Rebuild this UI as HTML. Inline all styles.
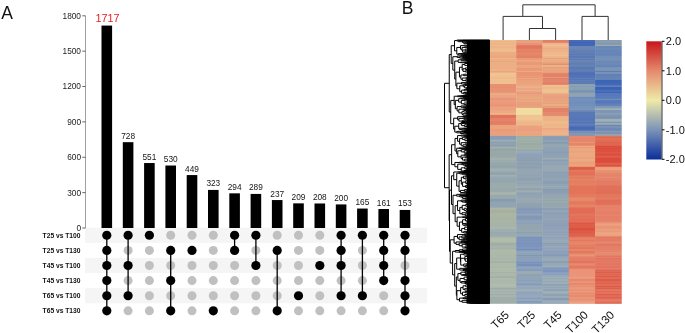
<!DOCTYPE html>
<html><head><meta charset="utf-8"><style>
html,body{margin:0;padding:0;background:#fff;width:685px;height:333px;overflow:hidden}
svg{display:block;will-change:transform;font-family:"Liberation Sans",sans-serif}
</style></head><body>
<svg width="685" height="333" viewBox="0 0 685 333">
<rect x="85" y="227.70" width="342" height="15.12" fill="#f5f5f5"/>
<rect x="85" y="257.94" width="342" height="15.12" fill="#f5f5f5"/>
<rect x="85" y="288.18" width="342" height="15.12" fill="#f5f5f5"/>
<line x1="85.5" y1="15.8" x2="85.5" y2="228" stroke="#a0a0a0" stroke-width="1"/>
<line x1="82.3" y1="228.00" x2="85.5" y2="228.00" stroke="#555" stroke-width="0.9"/>
<text x="81" y="230.90" font-size="8.3" text-anchor="end" fill="#222">0</text>
<line x1="82.3" y1="192.63" x2="85.5" y2="192.63" stroke="#555" stroke-width="0.9"/>
<text x="81" y="195.53" font-size="8.3" text-anchor="end" fill="#222">300</text>
<line x1="82.3" y1="157.27" x2="85.5" y2="157.27" stroke="#555" stroke-width="0.9"/>
<text x="81" y="160.17" font-size="8.3" text-anchor="end" fill="#222">600</text>
<line x1="82.3" y1="121.90" x2="85.5" y2="121.90" stroke="#555" stroke-width="0.9"/>
<text x="81" y="124.80" font-size="8.3" text-anchor="end" fill="#222">900</text>
<line x1="82.3" y1="86.53" x2="85.5" y2="86.53" stroke="#555" stroke-width="0.9"/>
<text x="81" y="89.43" font-size="8.3" text-anchor="end" fill="#222">1200</text>
<line x1="82.3" y1="51.17" x2="85.5" y2="51.17" stroke="#555" stroke-width="0.9"/>
<text x="81" y="54.07" font-size="8.3" text-anchor="end" fill="#222">1500</text>
<line x1="82.3" y1="15.80" x2="85.5" y2="15.80" stroke="#555" stroke-width="0.9"/>
<text x="81" y="18.70" font-size="8.3" text-anchor="end" fill="#222">1800</text>
<rect x="101.50" y="25.58" width="10.6" height="202.42" fill="#000"/>
<text x="107.50" y="22.18" font-size="10.8" text-anchor="middle" fill="#e8202a">1717</text>
<rect x="122.80" y="142.18" width="10.6" height="85.82" fill="#000"/>
<text x="128.10" y="138.68" font-size="8.3" text-anchor="middle" fill="#151515">728</text>
<rect x="144.10" y="163.04" width="10.6" height="64.96" fill="#000"/>
<text x="149.40" y="159.54" font-size="8.3" text-anchor="middle" fill="#151515">551</text>
<rect x="165.40" y="165.52" width="10.6" height="62.48" fill="#000"/>
<text x="170.70" y="162.02" font-size="8.3" text-anchor="middle" fill="#151515">530</text>
<rect x="186.70" y="175.07" width="10.6" height="52.93" fill="#000"/>
<text x="192.00" y="171.57" font-size="8.3" text-anchor="middle" fill="#151515">449</text>
<rect x="208.00" y="189.92" width="10.6" height="38.08" fill="#000"/>
<text x="213.30" y="186.42" font-size="8.3" text-anchor="middle" fill="#151515">323</text>
<rect x="229.30" y="193.34" width="10.6" height="34.66" fill="#000"/>
<text x="234.60" y="189.84" font-size="8.3" text-anchor="middle" fill="#151515">294</text>
<rect x="250.60" y="193.93" width="10.6" height="34.07" fill="#000"/>
<text x="255.90" y="190.43" font-size="8.3" text-anchor="middle" fill="#151515">289</text>
<rect x="271.90" y="200.06" width="10.6" height="27.94" fill="#000"/>
<text x="277.20" y="196.56" font-size="8.3" text-anchor="middle" fill="#151515">237</text>
<rect x="293.20" y="203.36" width="10.6" height="24.64" fill="#000"/>
<text x="298.50" y="199.86" font-size="8.3" text-anchor="middle" fill="#151515">209</text>
<rect x="314.50" y="203.48" width="10.6" height="24.52" fill="#000"/>
<text x="319.80" y="199.98" font-size="8.3" text-anchor="middle" fill="#151515">208</text>
<rect x="335.80" y="204.42" width="10.6" height="23.58" fill="#000"/>
<text x="341.10" y="200.92" font-size="8.3" text-anchor="middle" fill="#151515">200</text>
<rect x="357.10" y="208.55" width="10.6" height="19.45" fill="#000"/>
<text x="362.40" y="205.05" font-size="8.3" text-anchor="middle" fill="#151515">165</text>
<rect x="378.40" y="209.02" width="10.6" height="18.98" fill="#000"/>
<text x="383.70" y="205.52" font-size="8.3" text-anchor="middle" fill="#151515">161</text>
<rect x="399.70" y="209.96" width="10.6" height="18.04" fill="#000"/>
<text x="405.00" y="206.46" font-size="8.3" text-anchor="middle" fill="#151515">153</text>
<circle cx="128.10" cy="250.38" r="4.5" fill="#c0c0c0"/>
<circle cx="128.10" cy="280.62" r="4.5" fill="#c0c0c0"/>
<circle cx="128.10" cy="310.86" r="4.5" fill="#c0c0c0"/>
<circle cx="149.40" cy="250.38" r="4.5" fill="#c0c0c0"/>
<circle cx="149.40" cy="265.50" r="4.5" fill="#c0c0c0"/>
<circle cx="149.40" cy="280.62" r="4.5" fill="#c0c0c0"/>
<circle cx="149.40" cy="295.74" r="4.5" fill="#c0c0c0"/>
<circle cx="149.40" cy="310.86" r="4.5" fill="#c0c0c0"/>
<circle cx="170.70" cy="235.26" r="4.5" fill="#c0c0c0"/>
<circle cx="170.70" cy="265.50" r="4.5" fill="#c0c0c0"/>
<circle cx="170.70" cy="295.74" r="4.5" fill="#c0c0c0"/>
<circle cx="192.00" cy="235.26" r="4.5" fill="#c0c0c0"/>
<circle cx="192.00" cy="265.50" r="4.5" fill="#c0c0c0"/>
<circle cx="192.00" cy="280.62" r="4.5" fill="#c0c0c0"/>
<circle cx="192.00" cy="295.74" r="4.5" fill="#c0c0c0"/>
<circle cx="192.00" cy="310.86" r="4.5" fill="#c0c0c0"/>
<circle cx="213.30" cy="235.26" r="4.5" fill="#c0c0c0"/>
<circle cx="213.30" cy="250.38" r="4.5" fill="#c0c0c0"/>
<circle cx="213.30" cy="265.50" r="4.5" fill="#c0c0c0"/>
<circle cx="213.30" cy="280.62" r="4.5" fill="#c0c0c0"/>
<circle cx="213.30" cy="295.74" r="4.5" fill="#c0c0c0"/>
<circle cx="234.60" cy="265.50" r="4.5" fill="#c0c0c0"/>
<circle cx="234.60" cy="280.62" r="4.5" fill="#c0c0c0"/>
<circle cx="234.60" cy="295.74" r="4.5" fill="#c0c0c0"/>
<circle cx="234.60" cy="310.86" r="4.5" fill="#c0c0c0"/>
<circle cx="255.90" cy="250.38" r="4.5" fill="#c0c0c0"/>
<circle cx="255.90" cy="280.62" r="4.5" fill="#c0c0c0"/>
<circle cx="255.90" cy="295.74" r="4.5" fill="#c0c0c0"/>
<circle cx="255.90" cy="310.86" r="4.5" fill="#c0c0c0"/>
<circle cx="277.20" cy="235.26" r="4.5" fill="#c0c0c0"/>
<circle cx="277.20" cy="265.50" r="4.5" fill="#c0c0c0"/>
<circle cx="277.20" cy="280.62" r="4.5" fill="#c0c0c0"/>
<circle cx="277.20" cy="295.74" r="4.5" fill="#c0c0c0"/>
<circle cx="298.50" cy="235.26" r="4.5" fill="#c0c0c0"/>
<circle cx="298.50" cy="250.38" r="4.5" fill="#c0c0c0"/>
<circle cx="298.50" cy="265.50" r="4.5" fill="#c0c0c0"/>
<circle cx="298.50" cy="280.62" r="4.5" fill="#c0c0c0"/>
<circle cx="298.50" cy="310.86" r="4.5" fill="#c0c0c0"/>
<circle cx="319.80" cy="235.26" r="4.5" fill="#c0c0c0"/>
<circle cx="319.80" cy="250.38" r="4.5" fill="#c0c0c0"/>
<circle cx="319.80" cy="280.62" r="4.5" fill="#c0c0c0"/>
<circle cx="319.80" cy="295.74" r="4.5" fill="#c0c0c0"/>
<circle cx="319.80" cy="310.86" r="4.5" fill="#c0c0c0"/>
<circle cx="341.10" cy="280.62" r="4.5" fill="#c0c0c0"/>
<circle cx="341.10" cy="310.86" r="4.5" fill="#c0c0c0"/>
<circle cx="362.40" cy="250.38" r="4.5" fill="#c0c0c0"/>
<circle cx="362.40" cy="265.50" r="4.5" fill="#c0c0c0"/>
<circle cx="362.40" cy="280.62" r="4.5" fill="#c0c0c0"/>
<circle cx="362.40" cy="310.86" r="4.5" fill="#c0c0c0"/>
<circle cx="383.70" cy="295.74" r="4.5" fill="#c0c0c0"/>
<circle cx="383.70" cy="310.86" r="4.5" fill="#c0c0c0"/>
<circle cx="405.00" cy="265.50" r="4.5" fill="#c0c0c0"/>
<line x1="106.80" y1="235.26" x2="106.80" y2="310.86" stroke="#000" stroke-width="1.3"/>
<circle cx="106.80" cy="235.26" r="4.6" fill="#000"/>
<circle cx="106.80" cy="250.38" r="4.6" fill="#000"/>
<circle cx="106.80" cy="265.50" r="4.6" fill="#000"/>
<circle cx="106.80" cy="280.62" r="4.6" fill="#000"/>
<circle cx="106.80" cy="295.74" r="4.6" fill="#000"/>
<circle cx="106.80" cy="310.86" r="4.6" fill="#000"/>
<line x1="128.10" y1="235.26" x2="128.10" y2="295.74" stroke="#000" stroke-width="1.3"/>
<circle cx="128.10" cy="235.26" r="4.6" fill="#000"/>
<circle cx="128.10" cy="265.50" r="4.6" fill="#000"/>
<circle cx="128.10" cy="295.74" r="4.6" fill="#000"/>
<circle cx="149.40" cy="235.26" r="4.6" fill="#000"/>
<line x1="170.70" y1="250.38" x2="170.70" y2="310.86" stroke="#000" stroke-width="1.3"/>
<circle cx="170.70" cy="250.38" r="4.6" fill="#000"/>
<circle cx="170.70" cy="280.62" r="4.6" fill="#000"/>
<circle cx="170.70" cy="310.86" r="4.6" fill="#000"/>
<circle cx="192.00" cy="250.38" r="4.6" fill="#000"/>
<circle cx="213.30" cy="310.86" r="4.6" fill="#000"/>
<line x1="234.60" y1="235.26" x2="234.60" y2="250.38" stroke="#000" stroke-width="1.3"/>
<circle cx="234.60" cy="235.26" r="4.6" fill="#000"/>
<circle cx="234.60" cy="250.38" r="4.6" fill="#000"/>
<line x1="255.90" y1="235.26" x2="255.90" y2="265.50" stroke="#000" stroke-width="1.3"/>
<circle cx="255.90" cy="235.26" r="4.6" fill="#000"/>
<circle cx="255.90" cy="265.50" r="4.6" fill="#000"/>
<line x1="277.20" y1="250.38" x2="277.20" y2="310.86" stroke="#000" stroke-width="1.3"/>
<circle cx="277.20" cy="250.38" r="4.6" fill="#000"/>
<circle cx="277.20" cy="310.86" r="4.6" fill="#000"/>
<circle cx="298.50" cy="295.74" r="4.6" fill="#000"/>
<circle cx="319.80" cy="265.50" r="4.6" fill="#000"/>
<line x1="341.10" y1="235.26" x2="341.10" y2="295.74" stroke="#000" stroke-width="1.3"/>
<circle cx="341.10" cy="235.26" r="4.6" fill="#000"/>
<circle cx="341.10" cy="250.38" r="4.6" fill="#000"/>
<circle cx="341.10" cy="265.50" r="4.6" fill="#000"/>
<circle cx="341.10" cy="295.74" r="4.6" fill="#000"/>
<line x1="362.40" y1="235.26" x2="362.40" y2="295.74" stroke="#000" stroke-width="1.3"/>
<circle cx="362.40" cy="235.26" r="4.6" fill="#000"/>
<circle cx="362.40" cy="295.74" r="4.6" fill="#000"/>
<line x1="383.70" y1="235.26" x2="383.70" y2="280.62" stroke="#000" stroke-width="1.3"/>
<circle cx="383.70" cy="235.26" r="4.6" fill="#000"/>
<circle cx="383.70" cy="250.38" r="4.6" fill="#000"/>
<circle cx="383.70" cy="265.50" r="4.6" fill="#000"/>
<circle cx="383.70" cy="280.62" r="4.6" fill="#000"/>
<line x1="405.00" y1="235.26" x2="405.00" y2="310.86" stroke="#000" stroke-width="1.3"/>
<circle cx="405.00" cy="235.26" r="4.6" fill="#000"/>
<circle cx="405.00" cy="250.38" r="4.6" fill="#000"/>
<circle cx="405.00" cy="280.62" r="4.6" fill="#000"/>
<circle cx="405.00" cy="295.74" r="4.6" fill="#000"/>
<circle cx="405.00" cy="310.86" r="4.6" fill="#000"/>
<text x="80.5" y="237.76" font-size="6.7" font-weight="bold" text-anchor="end" fill="#111">T25 vs T100</text>
<text x="80.5" y="252.88" font-size="6.7" font-weight="bold" text-anchor="end" fill="#111">T25 vs T130</text>
<text x="80.5" y="268.00" font-size="6.7" font-weight="bold" text-anchor="end" fill="#111">T45 vs T100</text>
<text x="80.5" y="283.12" font-size="6.7" font-weight="bold" text-anchor="end" fill="#111">T45 vs T130</text>
<text x="80.5" y="298.24" font-size="6.7" font-weight="bold" text-anchor="end" fill="#111">T65 vs T100</text>
<text x="80.5" y="313.36" font-size="6.7" font-weight="bold" text-anchor="end" fill="#111">T65 vs T130</text>
<text x="1.3" y="19" font-size="17.5" fill="#111">A</text>
<text x="401.8" y="14" font-size="17.5" fill="#111">B</text>
<rect x="489.90" y="40.00" width="26.60" height="1.298" fill="#efbe8d"/>
<rect x="489.90" y="41.00" width="26.60" height="1.298" fill="#eeb688"/>
<rect x="489.90" y="42.00" width="26.60" height="1.298" fill="#efb98b"/>
<rect x="489.90" y="42.99" width="26.60" height="2.296" fill="#eeb588"/>
<rect x="489.90" y="44.99" width="26.60" height="1.298" fill="#efbc8c"/>
<rect x="489.90" y="45.99" width="26.60" height="1.298" fill="#eeb588"/>
<rect x="489.90" y="46.99" width="26.60" height="1.298" fill="#eeb387"/>
<rect x="489.90" y="47.98" width="26.60" height="2.296" fill="#efba8b"/>
<rect x="489.90" y="49.98" width="26.60" height="1.298" fill="#efbf8e"/>
<rect x="489.90" y="50.98" width="26.60" height="1.298" fill="#efbb8c"/>
<rect x="489.90" y="51.98" width="26.60" height="2.296" fill="#ecac82"/>
<rect x="489.90" y="53.97" width="26.60" height="2.296" fill="#ecab81"/>
<rect x="489.90" y="55.97" width="26.60" height="2.296" fill="#eba87f"/>
<rect x="489.90" y="57.97" width="26.60" height="1.298" fill="#edb78a"/>
<rect x="489.90" y="58.96" width="26.60" height="2.296" fill="#edae84"/>
<rect x="489.90" y="60.96" width="26.60" height="1.298" fill="#eca67f"/>
<rect x="489.90" y="61.96" width="26.60" height="2.296" fill="#edaf85"/>
<rect x="489.90" y="63.95" width="26.60" height="5.291" fill="#edae85"/>
<rect x="489.90" y="68.95" width="26.60" height="2.296" fill="#edb387"/>
<rect x="489.90" y="70.94" width="26.60" height="1.298" fill="#eca47e"/>
<rect x="489.90" y="71.94" width="26.60" height="1.298" fill="#edb186"/>
<rect x="489.90" y="72.94" width="26.60" height="2.296" fill="#f0c392"/>
<rect x="489.90" y="74.93" width="26.60" height="2.296" fill="#f0c191"/>
<rect x="489.90" y="76.93" width="26.60" height="2.296" fill="#efba8c"/>
<rect x="489.90" y="78.93" width="26.60" height="2.296" fill="#f0c291"/>
<rect x="489.90" y="80.92" width="26.60" height="1.298" fill="#efbc8d"/>
<rect x="489.90" y="81.92" width="26.60" height="1.298" fill="#f0c392"/>
<rect x="489.90" y="82.92" width="26.60" height="1.298" fill="#f0c090"/>
<rect x="489.90" y="83.92" width="26.60" height="1.298" fill="#e89574"/>
<rect x="489.90" y="84.91" width="26.60" height="1.298" fill="#e79272"/>
<rect x="489.90" y="85.91" width="26.60" height="2.296" fill="#e78f70"/>
<rect x="489.90" y="87.91" width="26.60" height="1.298" fill="#e89474"/>
<rect x="489.90" y="88.91" width="26.60" height="1.298" fill="#e89273"/>
<rect x="489.90" y="89.91" width="26.60" height="2.296" fill="#e89373"/>
<rect x="489.90" y="91.90" width="26.60" height="1.298" fill="#e89977"/>
<rect x="489.90" y="92.90" width="26.60" height="1.298" fill="#eca984"/>
<rect x="489.90" y="93.90" width="26.60" height="1.298" fill="#ecae87"/>
<rect x="489.90" y="94.90" width="26.60" height="3.294" fill="#eca582"/>
<rect x="489.90" y="97.89" width="26.60" height="2.296" fill="#e99678"/>
<rect x="489.90" y="99.89" width="26.60" height="1.298" fill="#eb9c7c"/>
<rect x="489.90" y="100.88" width="26.60" height="1.298" fill="#eb9f7e"/>
<rect x="489.90" y="101.88" width="26.60" height="2.296" fill="#ea9a7a"/>
<rect x="489.90" y="103.88" width="26.60" height="3.294" fill="#e99678"/>
<rect x="489.90" y="106.87" width="26.60" height="1.298" fill="#eca682"/>
<rect x="489.90" y="107.87" width="26.60" height="1.298" fill="#eca17f"/>
<rect x="489.90" y="108.87" width="26.60" height="1.298" fill="#eba07e"/>
<rect x="489.90" y="109.87" width="26.60" height="1.298" fill="#edaa82"/>
<rect x="489.90" y="110.87" width="26.60" height="2.296" fill="#eda982"/>
<rect x="489.90" y="112.86" width="26.60" height="2.296" fill="#eeb589"/>
<rect x="489.90" y="114.86" width="26.60" height="3.294" fill="#e1735d"/>
<rect x="489.90" y="117.85" width="26.60" height="2.296" fill="#e48166"/>
<rect x="489.90" y="119.85" width="26.60" height="1.298" fill="#e4896b"/>
<rect x="489.90" y="120.85" width="26.60" height="1.298" fill="#e37c63"/>
<rect x="489.90" y="121.84" width="26.60" height="3.294" fill="#e37d64"/>
<rect x="489.90" y="124.84" width="26.60" height="2.296" fill="#eba27d"/>
<rect x="489.90" y="126.84" width="26.60" height="2.296" fill="#eba57f"/>
<rect x="489.90" y="128.83" width="26.60" height="3.294" fill="#ea9c79"/>
<rect x="489.90" y="131.83" width="26.60" height="1.298" fill="#eba07c"/>
<rect x="489.90" y="132.82" width="26.60" height="2.296" fill="#eb9f7c"/>
<rect x="489.90" y="134.82" width="26.60" height="1.298" fill="#eba57f"/>
<rect x="489.90" y="135.82" width="26.60" height="3.294" fill="#889db3"/>
<rect x="489.90" y="138.81" width="26.60" height="1.298" fill="#8ca0b4"/>
<rect x="489.90" y="139.81" width="26.60" height="2.296" fill="#9cacb2"/>
<rect x="489.90" y="141.81" width="26.60" height="1.298" fill="#879cb3"/>
<rect x="489.90" y="142.80" width="26.60" height="1.298" fill="#90a4b4"/>
<rect x="489.90" y="143.80" width="26.60" height="1.298" fill="#93a6b3"/>
<rect x="489.90" y="144.80" width="26.60" height="1.298" fill="#899db3"/>
<rect x="489.90" y="145.80" width="26.60" height="1.298" fill="#8fa3b4"/>
<rect x="489.90" y="146.80" width="26.60" height="1.298" fill="#a4b1a8"/>
<rect x="489.90" y="147.80" width="26.60" height="1.298" fill="#9eaca8"/>
<rect x="489.90" y="148.79" width="26.60" height="2.296" fill="#94a3a7"/>
<rect x="489.90" y="150.79" width="26.60" height="2.296" fill="#9aa8a8"/>
<rect x="489.90" y="152.79" width="26.60" height="3.294" fill="#98a7a7"/>
<rect x="489.90" y="155.78" width="26.60" height="1.298" fill="#9daba8"/>
<rect x="489.90" y="156.78" width="26.60" height="1.298" fill="#96a8ac"/>
<rect x="489.90" y="157.78" width="26.60" height="2.296" fill="#a4b2ab"/>
<rect x="489.90" y="159.77" width="26.60" height="3.294" fill="#9cacac"/>
<rect x="489.90" y="162.77" width="26.60" height="3.294" fill="#95a6ac"/>
<rect x="489.90" y="165.76" width="26.60" height="1.298" fill="#92a4ab"/>
<rect x="489.90" y="166.76" width="26.60" height="1.298" fill="#93a5ac"/>
<rect x="489.90" y="167.76" width="26.60" height="1.298" fill="#9cacac"/>
<rect x="489.90" y="168.76" width="26.60" height="1.298" fill="#9eadac"/>
<rect x="489.90" y="169.75" width="26.60" height="1.298" fill="#a5b3ae"/>
<rect x="489.90" y="170.75" width="26.60" height="1.298" fill="#9aaaaf"/>
<rect x="489.90" y="171.75" width="26.60" height="1.298" fill="#99a9af"/>
<rect x="489.90" y="172.75" width="26.60" height="1.298" fill="#8ea1af"/>
<rect x="489.90" y="173.75" width="26.60" height="1.298" fill="#91a3b0"/>
<rect x="489.90" y="174.74" width="26.60" height="2.296" fill="#a1afaf"/>
<rect x="489.90" y="176.74" width="26.60" height="2.296" fill="#95a7b0"/>
<rect x="489.90" y="178.74" width="26.60" height="1.298" fill="#96a7b0"/>
<rect x="489.90" y="179.73" width="26.60" height="1.298" fill="#97a8b0"/>
<rect x="489.90" y="180.73" width="26.60" height="1.298" fill="#92a4b0"/>
<rect x="489.90" y="181.73" width="26.60" height="1.298" fill="#97a8ac"/>
<rect x="489.90" y="182.73" width="26.60" height="3.294" fill="#9aabac"/>
<rect x="489.90" y="185.72" width="26.60" height="1.298" fill="#9faeac"/>
<rect x="489.90" y="186.72" width="26.60" height="1.298" fill="#98a9ac"/>
<rect x="489.90" y="187.72" width="26.60" height="1.298" fill="#9babac"/>
<rect x="489.90" y="188.72" width="26.60" height="1.298" fill="#9aaaac"/>
<rect x="489.90" y="189.72" width="26.60" height="2.296" fill="#97a8ac"/>
<rect x="489.90" y="191.71" width="26.60" height="1.298" fill="#a4b2ab"/>
<rect x="489.90" y="192.71" width="26.60" height="2.296" fill="#a8b5ab"/>
<rect x="489.90" y="194.71" width="26.60" height="1.298" fill="#9aabac"/>
<rect x="489.90" y="195.70" width="26.60" height="1.298" fill="#95a8b2"/>
<rect x="489.90" y="196.70" width="26.60" height="1.298" fill="#98aab1"/>
<rect x="489.90" y="197.70" width="26.60" height="1.298" fill="#9aabb1"/>
<rect x="489.90" y="198.70" width="26.60" height="3.294" fill="#889cb0"/>
<rect x="489.90" y="201.69" width="26.60" height="3.294" fill="#91a4b2"/>
<rect x="489.90" y="204.69" width="26.60" height="1.298" fill="#92a5b2"/>
<rect x="489.90" y="205.69" width="26.60" height="1.298" fill="#90a3b1"/>
<rect x="489.90" y="206.68" width="26.60" height="1.298" fill="#91a4b2"/>
<rect x="489.90" y="207.68" width="26.60" height="2.296" fill="#abb6a4"/>
<rect x="489.90" y="209.68" width="26.60" height="3.294" fill="#aaae9e"/>
<rect x="489.90" y="212.67" width="26.60" height="2.296" fill="#a8b4a4"/>
<rect x="489.90" y="214.67" width="26.60" height="3.294" fill="#aab6a4"/>
<rect x="489.90" y="217.66" width="26.60" height="1.298" fill="#aaad9e"/>
<rect x="489.90" y="218.66" width="26.60" height="3.294" fill="#a8b4a4"/>
<rect x="489.90" y="221.66" width="26.60" height="3.294" fill="#a6b3a8"/>
<rect x="489.90" y="224.65" width="26.60" height="1.298" fill="#a2b0a8"/>
<rect x="489.90" y="225.65" width="26.60" height="2.296" fill="#a6b3a8"/>
<rect x="489.90" y="227.64" width="26.60" height="1.298" fill="#aab6a8"/>
<rect x="489.90" y="228.64" width="26.60" height="1.298" fill="#9faea8"/>
<rect x="489.90" y="229.64" width="26.60" height="1.298" fill="#98a9ad"/>
<rect x="489.90" y="230.64" width="26.60" height="1.298" fill="#9eadad"/>
<rect x="489.90" y="231.64" width="26.60" height="1.298" fill="#99aaad"/>
<rect x="489.90" y="232.63" width="26.60" height="1.298" fill="#8fa2ac"/>
<rect x="489.90" y="233.63" width="26.60" height="1.298" fill="#98a9ad"/>
<rect x="489.90" y="234.63" width="26.60" height="1.298" fill="#97a8ad"/>
<rect x="489.90" y="235.63" width="26.60" height="1.298" fill="#92a5ad"/>
<rect x="489.90" y="236.63" width="26.60" height="2.296" fill="#abb7a6"/>
<rect x="489.90" y="238.62" width="26.60" height="3.294" fill="#b2bca6"/>
<rect x="489.90" y="241.62" width="26.60" height="1.298" fill="#a6b3a6"/>
<rect x="489.90" y="242.62" width="26.60" height="3.294" fill="#a0aea6"/>
<rect x="489.90" y="245.61" width="26.60" height="1.298" fill="#9fada6"/>
<rect x="489.90" y="246.61" width="26.60" height="1.298" fill="#a8b4a6"/>
<rect x="489.90" y="247.61" width="26.60" height="1.298" fill="#9eaca5"/>
<rect x="489.90" y="248.60" width="26.60" height="1.298" fill="#a0aea6"/>
<rect x="489.90" y="249.60" width="26.60" height="1.298" fill="#a9b5a6"/>
<rect x="489.90" y="250.60" width="26.60" height="3.294" fill="#aeb9a6"/>
<rect x="489.90" y="253.59" width="26.60" height="1.298" fill="#a4b1a6"/>
<rect x="489.90" y="254.59" width="26.60" height="1.298" fill="#a6b3a6"/>
<rect x="489.90" y="255.59" width="26.60" height="1.298" fill="#a4b1a6"/>
<rect x="489.90" y="256.59" width="26.60" height="1.298" fill="#a7b4a6"/>
<rect x="489.90" y="257.59" width="26.60" height="2.296" fill="#a6b3a6"/>
<rect x="489.90" y="259.58" width="26.60" height="1.298" fill="#a7b4a6"/>
<rect x="489.90" y="260.58" width="26.60" height="3.294" fill="#a4b1a6"/>
<rect x="489.90" y="263.58" width="26.60" height="2.296" fill="#aeb9a6"/>
<rect x="489.90" y="265.57" width="26.60" height="1.298" fill="#a5b2a6"/>
<rect x="489.90" y="266.57" width="26.60" height="1.298" fill="#a4b1a6"/>
<rect x="489.90" y="267.57" width="26.60" height="1.298" fill="#a5b2a6"/>
<rect x="489.90" y="268.57" width="26.60" height="3.294" fill="#aeb9a6"/>
<rect x="489.90" y="271.56" width="26.60" height="2.296" fill="#a5b2a6"/>
<rect x="489.90" y="273.56" width="26.60" height="2.296" fill="#abb7a6"/>
<rect x="489.90" y="275.55" width="26.60" height="3.294" fill="#a4b1a6"/>
<rect x="489.90" y="278.55" width="26.60" height="1.298" fill="#a8b4a6"/>
<rect x="489.90" y="279.55" width="26.60" height="1.298" fill="#a3b1a6"/>
<rect x="489.90" y="280.54" width="26.60" height="1.298" fill="#a5b2a6"/>
<rect x="489.90" y="281.54" width="26.60" height="2.296" fill="#aab6a6"/>
<rect x="489.90" y="283.54" width="26.60" height="1.298" fill="#a6b3a6"/>
<rect x="489.90" y="284.54" width="26.60" height="1.298" fill="#acb7a6"/>
<rect x="489.90" y="285.53" width="26.60" height="1.298" fill="#aab6a6"/>
<rect x="489.90" y="286.53" width="26.60" height="1.298" fill="#a4b1a6"/>
<rect x="489.90" y="287.53" width="26.60" height="2.296" fill="#9daba5"/>
<rect x="489.90" y="289.53" width="26.60" height="1.298" fill="#9baaaa"/>
<rect x="489.90" y="290.52" width="26.60" height="3.294" fill="#a6b3aa"/>
<rect x="489.90" y="293.52" width="26.60" height="2.296" fill="#9dacaa"/>
<rect x="489.90" y="295.52" width="26.60" height="1.298" fill="#9fadaa"/>
<rect x="489.90" y="296.51" width="26.60" height="7.287" fill="#a0aeaa"/>
<rect x="516.20" y="40.00" width="26.60" height="1.298" fill="#e89d7d"/>
<rect x="516.20" y="41.00" width="26.60" height="2.296" fill="#e9a280"/>
<rect x="516.20" y="42.99" width="26.60" height="1.298" fill="#e79376"/>
<rect x="516.20" y="43.99" width="26.60" height="1.298" fill="#e89679"/>
<rect x="516.20" y="44.99" width="26.60" height="1.298" fill="#e47b61"/>
<rect x="516.20" y="45.99" width="26.60" height="2.296" fill="#e2755d"/>
<rect x="516.20" y="47.98" width="26.60" height="1.298" fill="#e37960"/>
<rect x="516.20" y="48.98" width="26.60" height="2.296" fill="#e58467"/>
<rect x="516.20" y="50.98" width="26.60" height="1.298" fill="#e47f64"/>
<rect x="516.20" y="51.98" width="26.60" height="3.294" fill="#e5886a"/>
<rect x="516.20" y="54.97" width="26.60" height="1.298" fill="#e58467"/>
<rect x="516.20" y="55.97" width="26.60" height="2.296" fill="#e48064"/>
<rect x="516.20" y="57.97" width="26.60" height="1.298" fill="#ea9d7a"/>
<rect x="516.20" y="58.96" width="26.60" height="1.298" fill="#ea9977"/>
<rect x="516.20" y="59.96" width="26.60" height="2.296" fill="#eba780"/>
<rect x="516.20" y="61.96" width="26.60" height="3.294" fill="#ea9977"/>
<rect x="516.20" y="64.95" width="26.60" height="3.294" fill="#eba57f"/>
<rect x="516.20" y="67.95" width="26.60" height="1.298" fill="#e99675"/>
<rect x="516.20" y="68.95" width="26.60" height="2.296" fill="#ea9a78"/>
<rect x="516.20" y="70.94" width="26.60" height="1.298" fill="#ebac83"/>
<rect x="516.20" y="71.94" width="26.60" height="4.292" fill="#e99474"/>
<rect x="516.20" y="75.93" width="26.60" height="1.298" fill="#ea9d7a"/>
<rect x="516.20" y="76.93" width="26.60" height="1.298" fill="#e99676"/>
<rect x="516.20" y="77.93" width="26.60" height="1.298" fill="#eba780"/>
<rect x="516.20" y="78.93" width="26.60" height="1.298" fill="#ea9c79"/>
<rect x="516.20" y="79.92" width="26.60" height="1.298" fill="#eaa27d"/>
<rect x="516.20" y="80.92" width="26.60" height="3.294" fill="#eaa37d"/>
<rect x="516.20" y="83.92" width="26.60" height="2.296" fill="#eba780"/>
<rect x="516.20" y="85.91" width="26.60" height="1.298" fill="#ecb18a"/>
<rect x="516.20" y="86.91" width="26.60" height="1.298" fill="#ecb38b"/>
<rect x="516.20" y="87.91" width="26.60" height="1.298" fill="#eca684"/>
<rect x="516.20" y="88.91" width="26.60" height="1.298" fill="#eba382"/>
<rect x="516.20" y="89.91" width="26.60" height="1.298" fill="#ecb58c"/>
<rect x="516.20" y="90.90" width="26.60" height="1.298" fill="#eca583"/>
<rect x="516.20" y="91.90" width="26.60" height="1.298" fill="#ea9f7f"/>
<rect x="516.20" y="92.90" width="26.60" height="1.298" fill="#e79977"/>
<rect x="516.20" y="93.90" width="26.60" height="1.298" fill="#e9a47f"/>
<rect x="516.20" y="94.90" width="26.60" height="1.298" fill="#e9a37e"/>
<rect x="516.20" y="95.89" width="26.60" height="2.296" fill="#e9a780"/>
<rect x="516.20" y="97.89" width="26.60" height="1.298" fill="#eaab83"/>
<rect x="516.20" y="98.89" width="26.60" height="1.298" fill="#e9a17d"/>
<rect x="516.20" y="99.89" width="26.60" height="2.296" fill="#eaa881"/>
<rect x="516.20" y="101.88" width="26.60" height="2.296" fill="#e9a17d"/>
<rect x="516.20" y="103.88" width="26.60" height="1.298" fill="#e89e7a"/>
<rect x="516.20" y="104.88" width="26.60" height="3.294" fill="#e9a07c"/>
<rect x="516.20" y="107.87" width="26.60" height="1.298" fill="#f2dda0"/>
<rect x="516.20" y="108.87" width="26.60" height="1.298" fill="#f2db9f"/>
<rect x="516.20" y="109.87" width="26.60" height="1.298" fill="#f1dfa2"/>
<rect x="516.20" y="110.87" width="26.60" height="1.298" fill="#f2dda0"/>
<rect x="516.20" y="111.86" width="26.60" height="3.294" fill="#f2dda1"/>
<rect x="516.20" y="114.86" width="26.60" height="2.296" fill="#f0c492"/>
<rect x="516.20" y="116.85" width="26.60" height="3.294" fill="#f0c593"/>
<rect x="516.20" y="119.85" width="26.60" height="2.296" fill="#efbd8e"/>
<rect x="516.20" y="121.84" width="26.60" height="2.296" fill="#eeb589"/>
<rect x="516.20" y="123.84" width="26.60" height="1.298" fill="#efbb8c"/>
<rect x="516.20" y="124.84" width="26.60" height="1.298" fill="#ecad85"/>
<rect x="516.20" y="125.84" width="26.60" height="1.298" fill="#eba581"/>
<rect x="516.20" y="126.84" width="26.60" height="1.298" fill="#eba07e"/>
<rect x="516.20" y="127.83" width="26.60" height="1.298" fill="#eba27f"/>
<rect x="516.20" y="128.83" width="26.60" height="3.294" fill="#eb9f7e"/>
<rect x="516.20" y="131.83" width="26.60" height="1.298" fill="#ebac85"/>
<rect x="516.20" y="132.82" width="26.60" height="1.298" fill="#eba07e"/>
<rect x="516.20" y="133.82" width="26.60" height="1.298" fill="#eba581"/>
<rect x="516.20" y="134.82" width="26.60" height="1.298" fill="#eba983"/>
<rect x="516.20" y="135.82" width="26.60" height="1.298" fill="#9caca6"/>
<rect x="516.20" y="136.82" width="26.60" height="4.292" fill="#a1b0a6"/>
<rect x="516.20" y="140.81" width="26.60" height="1.298" fill="#9baba6"/>
<rect x="516.20" y="141.81" width="26.60" height="1.298" fill="#a4b2a6"/>
<rect x="516.20" y="142.80" width="26.60" height="2.296" fill="#99aaa6"/>
<rect x="516.20" y="144.80" width="26.60" height="3.294" fill="#9eada6"/>
<rect x="516.20" y="147.80" width="26.60" height="2.296" fill="#a2b1a6"/>
<rect x="516.20" y="149.79" width="26.60" height="1.298" fill="#8ea1b8"/>
<rect x="516.20" y="150.79" width="26.60" height="1.298" fill="#9cacb6"/>
<rect x="516.20" y="151.79" width="26.60" height="1.298" fill="#9babb6"/>
<rect x="516.20" y="152.79" width="26.60" height="2.296" fill="#90a3b8"/>
<rect x="516.20" y="154.78" width="26.60" height="1.298" fill="#8c9fb7"/>
<rect x="516.20" y="155.78" width="26.60" height="1.298" fill="#8fa2b8"/>
<rect x="516.20" y="156.78" width="26.60" height="1.298" fill="#90a1b1"/>
<rect x="516.20" y="157.78" width="26.60" height="2.296" fill="#8ea0b1"/>
<rect x="516.20" y="159.77" width="26.60" height="1.298" fill="#8b9db1"/>
<rect x="516.20" y="160.77" width="26.60" height="2.296" fill="#91a2b2"/>
<rect x="516.20" y="162.77" width="26.60" height="1.298" fill="#8fa0b1"/>
<rect x="516.20" y="163.77" width="26.60" height="1.298" fill="#889bb0"/>
<rect x="516.20" y="164.76" width="26.60" height="1.298" fill="#98a8b1"/>
<rect x="516.20" y="165.76" width="26.60" height="2.296" fill="#8d9fb1"/>
<rect x="516.20" y="167.76" width="26.60" height="1.298" fill="#90a1b1"/>
<rect x="516.20" y="168.76" width="26.60" height="1.298" fill="#97a7b2"/>
<rect x="516.20" y="169.75" width="26.60" height="5.291" fill="#95a5b2"/>
<rect x="516.20" y="174.74" width="26.60" height="1.298" fill="#92a3b2"/>
<rect x="516.20" y="175.74" width="26.60" height="2.296" fill="#94a5b2"/>
<rect x="516.20" y="177.74" width="26.60" height="3.294" fill="#8fa1b1"/>
<rect x="516.20" y="180.73" width="26.60" height="1.298" fill="#99a8b1"/>
<rect x="516.20" y="181.73" width="26.60" height="2.296" fill="#93a4b2"/>
<rect x="516.20" y="183.73" width="26.60" height="1.298" fill="#99a8b1"/>
<rect x="516.20" y="184.73" width="26.60" height="1.298" fill="#97a7b2"/>
<rect x="516.20" y="185.72" width="26.60" height="1.298" fill="#99a9b1"/>
<rect x="516.20" y="186.72" width="26.60" height="1.298" fill="#a5b2b0"/>
<rect x="516.20" y="187.72" width="26.60" height="2.296" fill="#90a2b2"/>
<rect x="516.20" y="189.72" width="26.60" height="1.298" fill="#94a4b2"/>
<rect x="516.20" y="190.71" width="26.60" height="1.298" fill="#a5b2b0"/>
<rect x="516.20" y="191.71" width="26.60" height="2.296" fill="#93a4b2"/>
<rect x="516.20" y="193.71" width="26.60" height="1.298" fill="#8ea0b1"/>
<rect x="516.20" y="194.71" width="26.60" height="1.298" fill="#94a5b2"/>
<rect x="516.20" y="195.70" width="26.60" height="2.296" fill="#93a4b2"/>
<rect x="516.20" y="197.70" width="26.60" height="3.294" fill="#99a8b1"/>
<rect x="516.20" y="200.70" width="26.60" height="1.298" fill="#97a7b2"/>
<rect x="516.20" y="201.69" width="26.60" height="1.298" fill="#99a8b1"/>
<rect x="516.20" y="202.69" width="26.60" height="1.298" fill="#94a5b2"/>
<rect x="516.20" y="203.69" width="26.60" height="1.298" fill="#8fa0b1"/>
<rect x="516.20" y="204.69" width="26.60" height="3.294" fill="#90a2b2"/>
<rect x="516.20" y="207.68" width="26.60" height="1.298" fill="#8599b7"/>
<rect x="516.20" y="208.68" width="26.60" height="2.296" fill="#8398b7"/>
<rect x="516.20" y="210.68" width="26.60" height="1.298" fill="#899db8"/>
<rect x="516.20" y="211.67" width="26.60" height="1.298" fill="#8297b7"/>
<rect x="516.20" y="212.67" width="26.60" height="1.298" fill="#879bb8"/>
<rect x="516.20" y="213.67" width="26.60" height="1.298" fill="#92a4b6"/>
<rect x="516.20" y="214.67" width="26.60" height="1.298" fill="#8da0b7"/>
<rect x="516.20" y="215.67" width="26.60" height="4.292" fill="#8397b7"/>
<rect x="516.20" y="219.66" width="26.60" height="2.296" fill="#8da0b7"/>
<rect x="516.20" y="221.66" width="26.60" height="1.298" fill="#93a4b6"/>
<rect x="516.20" y="222.65" width="26.60" height="1.298" fill="#8599b7"/>
<rect x="516.20" y="223.65" width="26.60" height="1.298" fill="#8fa2af"/>
<rect x="516.20" y="224.65" width="26.60" height="3.294" fill="#93a5b0"/>
<rect x="516.20" y="227.64" width="26.60" height="2.296" fill="#92a4b0"/>
<rect x="516.20" y="229.64" width="26.60" height="2.296" fill="#96a7b0"/>
<rect x="516.20" y="231.64" width="26.60" height="2.296" fill="#8da0af"/>
<rect x="516.20" y="233.63" width="26.60" height="2.296" fill="#93a5b0"/>
<rect x="516.20" y="235.63" width="26.60" height="1.298" fill="#95a6b0"/>
<rect x="516.20" y="236.63" width="26.60" height="2.296" fill="#7992bb"/>
<rect x="516.20" y="238.62" width="26.60" height="3.294" fill="#7d95ba"/>
<rect x="516.20" y="241.62" width="26.60" height="1.298" fill="#768fba"/>
<rect x="516.20" y="242.62" width="26.60" height="2.296" fill="#7891bb"/>
<rect x="516.20" y="244.61" width="26.60" height="2.296" fill="#7892bb"/>
<rect x="516.20" y="246.61" width="26.60" height="1.298" fill="#7690ba"/>
<rect x="516.20" y="247.61" width="26.60" height="1.298" fill="#7e96ba"/>
<rect x="516.20" y="248.60" width="26.60" height="2.296" fill="#758eb9"/>
<rect x="516.20" y="250.60" width="26.60" height="1.298" fill="#839aba"/>
<rect x="516.20" y="251.60" width="26.60" height="1.298" fill="#90a4b5"/>
<rect x="516.20" y="252.60" width="26.60" height="2.296" fill="#8da2b5"/>
<rect x="516.20" y="254.59" width="26.60" height="2.296" fill="#8198b5"/>
<rect x="516.20" y="256.59" width="26.60" height="3.294" fill="#8aa0b6"/>
<rect x="516.20" y="259.58" width="26.60" height="1.298" fill="#7c94bb"/>
<rect x="516.20" y="260.58" width="26.60" height="1.298" fill="#899eb9"/>
<rect x="516.20" y="261.58" width="26.60" height="2.296" fill="#7991ba"/>
<rect x="516.20" y="263.58" width="26.60" height="3.294" fill="#7890ba"/>
<rect x="516.20" y="266.57" width="26.60" height="1.298" fill="#8ca0b8"/>
<rect x="516.20" y="267.57" width="26.60" height="1.298" fill="#849aba"/>
<rect x="516.20" y="268.57" width="26.60" height="3.294" fill="#879cb9"/>
<rect x="516.20" y="271.56" width="26.60" height="1.298" fill="#96a7b0"/>
<rect x="516.20" y="272.56" width="26.60" height="1.298" fill="#90a2b0"/>
<rect x="516.20" y="273.56" width="26.60" height="4.292" fill="#91a3b0"/>
<rect x="516.20" y="277.55" width="26.60" height="1.298" fill="#839ab5"/>
<rect x="516.20" y="278.55" width="26.60" height="1.298" fill="#849ab5"/>
<rect x="516.20" y="279.55" width="26.60" height="2.296" fill="#899fb6"/>
<rect x="516.20" y="281.54" width="26.60" height="1.298" fill="#869cb6"/>
<rect x="516.20" y="282.54" width="26.60" height="1.298" fill="#8399b5"/>
<rect x="516.20" y="283.54" width="26.60" height="2.296" fill="#849ab5"/>
<rect x="516.20" y="285.53" width="26.60" height="1.298" fill="#889eb6"/>
<rect x="516.20" y="286.53" width="26.60" height="3.294" fill="#94a7b4"/>
<rect x="516.20" y="289.53" width="26.60" height="1.298" fill="#93a6b4"/>
<rect x="516.20" y="290.52" width="26.60" height="1.298" fill="#9aabb4"/>
<rect x="516.20" y="291.52" width="26.60" height="1.298" fill="#879db6"/>
<rect x="516.20" y="292.52" width="26.60" height="1.298" fill="#8198b5"/>
<rect x="516.20" y="293.52" width="26.60" height="1.298" fill="#8ca1b6"/>
<rect x="516.20" y="294.52" width="26.60" height="1.298" fill="#8298b5"/>
<rect x="516.20" y="295.52" width="26.60" height="1.298" fill="#93a6b4"/>
<rect x="516.20" y="296.51" width="26.60" height="1.298" fill="#869cb6"/>
<rect x="516.20" y="297.51" width="26.60" height="2.296" fill="#879db6"/>
<rect x="516.20" y="299.51" width="26.60" height="1.298" fill="#8ca1b5"/>
<rect x="516.20" y="300.51" width="26.60" height="3.294" fill="#879db6"/>
<rect x="542.50" y="40.00" width="26.60" height="2.296" fill="#e27f66"/>
<rect x="542.50" y="42.00" width="26.60" height="1.298" fill="#e4896e"/>
<rect x="542.50" y="42.99" width="26.60" height="1.298" fill="#efb389"/>
<rect x="542.50" y="43.99" width="26.60" height="1.298" fill="#efb68b"/>
<rect x="542.50" y="44.99" width="26.60" height="1.298" fill="#efc292"/>
<rect x="542.50" y="45.99" width="26.60" height="1.298" fill="#efb58a"/>
<rect x="542.50" y="46.99" width="26.60" height="1.298" fill="#efb48a"/>
<rect x="542.50" y="47.98" width="26.60" height="2.296" fill="#eeae86"/>
<rect x="542.50" y="49.98" width="26.60" height="1.298" fill="#efb68b"/>
<rect x="542.50" y="50.98" width="26.60" height="1.298" fill="#eeb188"/>
<rect x="542.50" y="51.98" width="26.60" height="3.294" fill="#efb98d"/>
<rect x="542.50" y="54.97" width="26.60" height="1.298" fill="#efbf90"/>
<rect x="542.50" y="55.97" width="26.60" height="2.296" fill="#efb48a"/>
<rect x="542.50" y="57.97" width="26.60" height="1.298" fill="#e9a07c"/>
<rect x="542.50" y="58.96" width="26.60" height="1.298" fill="#eaaf85"/>
<rect x="542.50" y="59.96" width="26.60" height="2.296" fill="#eaae84"/>
<rect x="542.50" y="61.96" width="26.60" height="1.298" fill="#e9a680"/>
<rect x="542.50" y="62.96" width="26.60" height="1.298" fill="#e89d7a"/>
<rect x="542.50" y="63.95" width="26.60" height="1.298" fill="#e58e70"/>
<rect x="542.50" y="64.95" width="26.60" height="2.296" fill="#eab488"/>
<rect x="542.50" y="66.95" width="26.60" height="1.298" fill="#e89c79"/>
<rect x="542.50" y="67.95" width="26.60" height="1.298" fill="#e9a780"/>
<rect x="542.50" y="68.95" width="26.60" height="3.294" fill="#e9a47e"/>
<rect x="542.50" y="71.94" width="26.60" height="1.298" fill="#e9a17d"/>
<rect x="542.50" y="72.94" width="26.60" height="2.296" fill="#e3846b"/>
<rect x="542.50" y="74.93" width="26.60" height="2.296" fill="#e28068"/>
<rect x="542.50" y="76.93" width="26.60" height="1.298" fill="#e69e7b"/>
<rect x="542.50" y="77.93" width="26.60" height="1.298" fill="#e27e67"/>
<rect x="542.50" y="78.93" width="26.60" height="3.294" fill="#e3866d"/>
<rect x="542.50" y="81.92" width="26.60" height="1.298" fill="#e3856c"/>
<rect x="542.50" y="82.92" width="26.60" height="1.298" fill="#e27d66"/>
<rect x="542.50" y="83.92" width="26.60" height="1.298" fill="#e3836b"/>
<rect x="542.50" y="84.91" width="26.60" height="2.296" fill="#f0c090"/>
<rect x="542.50" y="86.91" width="26.60" height="2.296" fill="#eeb88b"/>
<rect x="542.50" y="88.91" width="26.60" height="2.296" fill="#f0c190"/>
<rect x="542.50" y="90.90" width="26.60" height="2.296" fill="#f0c291"/>
<rect x="542.50" y="92.90" width="26.60" height="1.298" fill="#edb488"/>
<rect x="542.50" y="93.90" width="26.60" height="2.296" fill="#e9a57f"/>
<rect x="542.50" y="95.89" width="26.60" height="3.294" fill="#e9a07c"/>
<rect x="542.50" y="98.89" width="26.60" height="2.296" fill="#e9a37e"/>
<rect x="542.50" y="100.88" width="26.60" height="1.298" fill="#e9a47f"/>
<rect x="542.50" y="101.88" width="26.60" height="1.298" fill="#eaa881"/>
<rect x="542.50" y="102.88" width="26.60" height="1.298" fill="#e9a07c"/>
<rect x="542.50" y="103.88" width="26.60" height="2.296" fill="#eaaf85"/>
<rect x="542.50" y="105.88" width="26.60" height="1.298" fill="#e89c79"/>
<rect x="542.50" y="106.87" width="26.60" height="1.298" fill="#e9a47e"/>
<rect x="542.50" y="107.87" width="26.60" height="2.296" fill="#e38169"/>
<rect x="542.50" y="109.87" width="26.60" height="2.296" fill="#e38068"/>
<rect x="542.50" y="111.86" width="26.60" height="1.298" fill="#e48f72"/>
<rect x="542.50" y="112.86" width="26.60" height="3.294" fill="#e4896e"/>
<rect x="542.50" y="115.86" width="26.60" height="1.298" fill="#edb085"/>
<rect x="542.50" y="116.85" width="26.60" height="1.298" fill="#eeb588"/>
<rect x="542.50" y="117.85" width="26.60" height="3.294" fill="#eeb487"/>
<rect x="542.50" y="120.85" width="26.60" height="1.298" fill="#efb98b"/>
<rect x="542.50" y="121.84" width="26.60" height="1.298" fill="#efbd8d"/>
<rect x="542.50" y="122.84" width="26.60" height="1.298" fill="#efbb8c"/>
<rect x="542.50" y="123.84" width="26.60" height="1.298" fill="#efb88a"/>
<rect x="542.50" y="124.84" width="26.60" height="2.296" fill="#eeb58b"/>
<rect x="542.50" y="126.84" width="26.60" height="1.298" fill="#eeb98d"/>
<rect x="542.50" y="127.83" width="26.60" height="1.298" fill="#eca883"/>
<rect x="542.50" y="128.83" width="26.60" height="1.298" fill="#eca983"/>
<rect x="542.50" y="129.83" width="26.60" height="1.298" fill="#eeb48a"/>
<rect x="542.50" y="130.83" width="26.60" height="1.298" fill="#eeaf87"/>
<rect x="542.50" y="131.83" width="26.60" height="1.298" fill="#eeb289"/>
<rect x="542.50" y="132.82" width="26.60" height="2.296" fill="#eeb48a"/>
<rect x="542.50" y="134.82" width="26.60" height="1.298" fill="#eeaf87"/>
<rect x="542.50" y="135.82" width="26.60" height="1.298" fill="#8ea1b4"/>
<rect x="542.50" y="136.82" width="26.60" height="2.296" fill="#8a9db3"/>
<rect x="542.50" y="138.81" width="26.60" height="1.298" fill="#899db3"/>
<rect x="542.50" y="139.81" width="26.60" height="1.298" fill="#8fa2b4"/>
<rect x="542.50" y="140.81" width="26.60" height="1.298" fill="#94a6b3"/>
<rect x="542.50" y="141.81" width="26.60" height="2.296" fill="#869ab2"/>
<rect x="542.50" y="143.80" width="26.60" height="3.294" fill="#95a6b3"/>
<rect x="542.50" y="146.80" width="26.60" height="3.294" fill="#90a3b4"/>
<rect x="542.50" y="149.79" width="26.60" height="1.298" fill="#8ea1b4"/>
<rect x="542.50" y="150.79" width="26.60" height="1.298" fill="#8da0b4"/>
<rect x="542.50" y="151.79" width="26.60" height="1.298" fill="#879bb2"/>
<rect x="542.50" y="152.79" width="26.60" height="2.296" fill="#8da1b4"/>
<rect x="542.50" y="154.78" width="26.60" height="3.294" fill="#8fa2b4"/>
<rect x="542.50" y="157.78" width="26.60" height="2.296" fill="#9babb3"/>
<rect x="542.50" y="159.77" width="26.60" height="1.298" fill="#879bb2"/>
<rect x="542.50" y="160.77" width="26.60" height="5.291" fill="#92a4b4"/>
<rect x="542.50" y="165.76" width="26.60" height="2.296" fill="#99aab3"/>
<rect x="542.50" y="167.76" width="26.60" height="2.296" fill="#97a8b3"/>
<rect x="542.50" y="169.75" width="26.60" height="2.296" fill="#98a9b3"/>
<rect x="542.50" y="171.75" width="26.60" height="1.298" fill="#889cb3"/>
<rect x="542.50" y="172.75" width="26.60" height="3.294" fill="#8fa2b4"/>
<rect x="542.50" y="175.74" width="26.60" height="1.298" fill="#8ea1b4"/>
<rect x="542.50" y="176.74" width="26.60" height="2.296" fill="#8fa2b4"/>
<rect x="542.50" y="178.74" width="26.60" height="1.298" fill="#99a9b3"/>
<rect x="542.50" y="179.73" width="26.60" height="2.296" fill="#8ea1b4"/>
<rect x="542.50" y="181.73" width="26.60" height="2.296" fill="#899cb3"/>
<rect x="542.50" y="183.73" width="26.60" height="1.298" fill="#94a6b3"/>
<rect x="542.50" y="184.73" width="26.60" height="1.298" fill="#8c9fb3"/>
<rect x="542.50" y="185.72" width="26.60" height="1.298" fill="#9faeb2"/>
<rect x="542.50" y="186.72" width="26.60" height="1.298" fill="#8fa2b4"/>
<rect x="542.50" y="187.72" width="26.60" height="1.298" fill="#9cacb2"/>
<rect x="542.50" y="188.72" width="26.60" height="1.298" fill="#8297b2"/>
<rect x="542.50" y="189.72" width="26.60" height="1.298" fill="#8c9fb3"/>
<rect x="542.50" y="190.71" width="26.60" height="1.298" fill="#8a9eb3"/>
<rect x="542.50" y="191.71" width="26.60" height="1.298" fill="#889cb3"/>
<rect x="542.50" y="192.71" width="26.60" height="2.296" fill="#90a2b4"/>
<rect x="542.50" y="194.71" width="26.60" height="1.298" fill="#94a6b3"/>
<rect x="542.50" y="195.70" width="26.60" height="3.294" fill="#95a7ae"/>
<rect x="542.50" y="198.70" width="26.60" height="1.298" fill="#9dadae"/>
<rect x="542.50" y="199.70" width="26.60" height="1.298" fill="#92a4ad"/>
<rect x="542.50" y="200.70" width="26.60" height="1.298" fill="#97a9ae"/>
<rect x="542.50" y="201.69" width="26.60" height="1.298" fill="#9dadae"/>
<rect x="542.50" y="202.69" width="26.60" height="1.298" fill="#90a2ad"/>
<rect x="542.50" y="203.69" width="26.60" height="2.296" fill="#96a8ae"/>
<rect x="542.50" y="205.69" width="26.60" height="1.298" fill="#93a6ae"/>
<rect x="542.50" y="206.68" width="26.60" height="1.298" fill="#9bacae"/>
<rect x="542.50" y="207.68" width="26.60" height="3.294" fill="#8c9eb6"/>
<rect x="542.50" y="210.68" width="26.60" height="1.298" fill="#9baab4"/>
<rect x="542.50" y="211.67" width="26.60" height="1.298" fill="#8b9eb5"/>
<rect x="542.50" y="212.67" width="26.60" height="3.294" fill="#8ea0b6"/>
<rect x="542.50" y="215.67" width="26.60" height="3.294" fill="#91a2b6"/>
<rect x="542.50" y="218.66" width="26.60" height="1.298" fill="#96a6b5"/>
<rect x="542.50" y="219.66" width="26.60" height="3.294" fill="#91a2b6"/>
<rect x="542.50" y="222.65" width="26.60" height="2.296" fill="#8d9fb6"/>
<rect x="542.50" y="224.65" width="26.60" height="1.298" fill="#889ab5"/>
<rect x="542.50" y="225.65" width="26.60" height="1.298" fill="#899bb5"/>
<rect x="542.50" y="226.65" width="26.60" height="1.298" fill="#90a2b6"/>
<rect x="542.50" y="227.64" width="26.60" height="2.296" fill="#8d9fb6"/>
<rect x="542.50" y="229.64" width="26.60" height="1.298" fill="#90a2b6"/>
<rect x="542.50" y="230.64" width="26.60" height="1.298" fill="#8d9fb6"/>
<rect x="542.50" y="231.64" width="26.60" height="2.296" fill="#8fa1b6"/>
<rect x="542.50" y="233.63" width="26.60" height="1.298" fill="#90a1b6"/>
<rect x="542.50" y="234.63" width="26.60" height="1.298" fill="#879ab5"/>
<rect x="542.50" y="235.63" width="26.60" height="1.298" fill="#98a7b5"/>
<rect x="542.50" y="236.63" width="26.60" height="2.296" fill="#90a2b6"/>
<rect x="542.50" y="238.62" width="26.60" height="1.298" fill="#90a1b6"/>
<rect x="542.50" y="239.62" width="26.60" height="1.298" fill="#92a3b5"/>
<rect x="542.50" y="240.62" width="26.60" height="2.296" fill="#98a8b5"/>
<rect x="542.50" y="242.62" width="26.60" height="2.296" fill="#8b9db5"/>
<rect x="542.50" y="244.61" width="26.60" height="2.296" fill="#8fa1b6"/>
<rect x="542.50" y="246.61" width="26.60" height="1.298" fill="#99a9b4"/>
<rect x="542.50" y="247.61" width="26.60" height="1.298" fill="#8498b4"/>
<rect x="542.50" y="248.60" width="26.60" height="1.298" fill="#90a2b6"/>
<rect x="542.50" y="249.60" width="26.60" height="1.298" fill="#90a1b6"/>
<rect x="542.50" y="250.60" width="26.60" height="1.298" fill="#879ab5"/>
<rect x="542.50" y="251.60" width="26.60" height="2.296" fill="#8b9fb7"/>
<rect x="542.50" y="253.59" width="26.60" height="3.294" fill="#859bb8"/>
<rect x="542.50" y="256.59" width="26.60" height="1.298" fill="#8a9fb7"/>
<rect x="542.50" y="257.59" width="26.60" height="2.296" fill="#95a8b2"/>
<rect x="542.50" y="259.58" width="26.60" height="1.298" fill="#92a5b3"/>
<rect x="542.50" y="260.58" width="26.60" height="3.294" fill="#8ba0b2"/>
<rect x="542.50" y="263.58" width="26.60" height="1.298" fill="#90a4b3"/>
<rect x="542.50" y="264.57" width="26.60" height="1.298" fill="#8ca0b2"/>
<rect x="542.50" y="265.57" width="26.60" height="1.298" fill="#99abb2"/>
<rect x="542.50" y="266.57" width="26.60" height="1.298" fill="#8da1b3"/>
<rect x="542.50" y="267.57" width="26.60" height="2.296" fill="#7e96ba"/>
<rect x="542.50" y="269.56" width="26.60" height="3.294" fill="#7d95ba"/>
<rect x="542.50" y="272.56" width="26.60" height="1.298" fill="#859bba"/>
<rect x="542.50" y="273.56" width="26.60" height="1.298" fill="#8199bb"/>
<rect x="542.50" y="274.55" width="26.60" height="1.298" fill="#7f97bb"/>
<rect x="542.50" y="275.55" width="26.60" height="2.296" fill="#99aab1"/>
<rect x="542.50" y="277.55" width="26.60" height="1.298" fill="#94a6b2"/>
<rect x="542.50" y="278.55" width="26.60" height="1.298" fill="#8b9fb1"/>
<rect x="542.50" y="279.55" width="26.60" height="1.298" fill="#9faeb0"/>
<rect x="542.50" y="280.54" width="26.60" height="1.298" fill="#90a3b2"/>
<rect x="542.50" y="281.54" width="26.60" height="1.298" fill="#8a9eb1"/>
<rect x="542.50" y="282.54" width="26.60" height="1.298" fill="#9cacb1"/>
<rect x="542.50" y="283.54" width="26.60" height="3.294" fill="#90a3b2"/>
<rect x="542.50" y="286.53" width="26.60" height="2.296" fill="#92a5b2"/>
<rect x="542.50" y="288.53" width="26.60" height="3.294" fill="#90a3b2"/>
<rect x="542.50" y="291.52" width="26.60" height="1.298" fill="#99aab1"/>
<rect x="542.50" y="292.52" width="26.60" height="1.298" fill="#97a8b1"/>
<rect x="542.50" y="293.52" width="26.60" height="3.294" fill="#8ea1b2"/>
<rect x="542.50" y="296.51" width="26.60" height="1.298" fill="#94a6b2"/>
<rect x="542.50" y="297.51" width="26.60" height="3.294" fill="#879bb0"/>
<rect x="542.50" y="300.51" width="26.60" height="1.298" fill="#91a4b2"/>
<rect x="542.50" y="301.50" width="26.60" height="1.298" fill="#94a6b2"/>
<rect x="542.50" y="302.50" width="26.60" height="1.298" fill="#8a9eb1"/>
<rect x="568.80" y="40.00" width="26.60" height="2.296" fill="#486bb8"/>
<rect x="568.80" y="42.00" width="26.60" height="1.298" fill="#4064b6"/>
<rect x="568.80" y="42.99" width="26.60" height="3.294" fill="#4367b7"/>
<rect x="568.80" y="45.99" width="26.60" height="3.294" fill="#6a86b4"/>
<rect x="568.80" y="48.98" width="26.60" height="2.296" fill="#6582b4"/>
<rect x="568.80" y="50.98" width="26.60" height="3.294" fill="#617eb5"/>
<rect x="568.80" y="53.97" width="26.60" height="1.298" fill="#5b7ab5"/>
<rect x="568.80" y="54.97" width="26.60" height="1.298" fill="#617fb4"/>
<rect x="568.80" y="55.97" width="26.60" height="1.298" fill="#5877b4"/>
<rect x="568.80" y="56.97" width="26.60" height="1.298" fill="#5a79b5"/>
<rect x="568.80" y="57.97" width="26.60" height="1.298" fill="#6985b4"/>
<rect x="568.80" y="58.96" width="26.60" height="1.298" fill="#5b7ab5"/>
<rect x="568.80" y="59.96" width="26.60" height="1.298" fill="#6c87b3"/>
<rect x="568.80" y="60.96" width="26.60" height="2.296" fill="#6783b4"/>
<rect x="568.80" y="62.96" width="26.60" height="1.298" fill="#5f7db5"/>
<rect x="568.80" y="63.95" width="26.60" height="1.298" fill="#6380b4"/>
<rect x="568.80" y="64.95" width="26.60" height="2.296" fill="#6582b4"/>
<rect x="568.80" y="66.95" width="26.60" height="2.296" fill="#5978b4"/>
<rect x="568.80" y="68.95" width="26.60" height="3.294" fill="#5f7db5"/>
<rect x="568.80" y="71.94" width="26.60" height="1.298" fill="#5574b3"/>
<rect x="568.80" y="72.94" width="26.60" height="2.296" fill="#4e6eb6"/>
<rect x="568.80" y="74.93" width="26.60" height="3.294" fill="#5373b8"/>
<rect x="568.80" y="77.93" width="26.60" height="1.298" fill="#627fb7"/>
<rect x="568.80" y="78.93" width="26.60" height="1.298" fill="#5474b8"/>
<rect x="568.80" y="79.92" width="26.60" height="1.298" fill="#627fb7"/>
<rect x="568.80" y="80.92" width="26.60" height="1.298" fill="#5978b7"/>
<rect x="568.80" y="81.92" width="26.60" height="1.298" fill="#607eb7"/>
<rect x="568.80" y="82.92" width="26.60" height="1.298" fill="#5776b8"/>
<rect x="568.80" y="83.92" width="26.60" height="1.298" fill="#8ca2b5"/>
<rect x="568.80" y="84.91" width="26.60" height="1.298" fill="#8ea4b4"/>
<rect x="568.80" y="85.91" width="26.60" height="1.298" fill="#869db4"/>
<rect x="568.80" y="86.91" width="26.60" height="3.294" fill="#8aa1b5"/>
<rect x="568.80" y="89.91" width="26.60" height="1.298" fill="#7f97b3"/>
<rect x="568.80" y="90.90" width="26.60" height="1.298" fill="#7b93b2"/>
<rect x="568.80" y="91.90" width="26.60" height="1.298" fill="#7f97b3"/>
<rect x="568.80" y="92.90" width="26.60" height="3.294" fill="#8ea4b5"/>
<rect x="568.80" y="95.89" width="26.60" height="1.298" fill="#8da3b5"/>
<rect x="568.80" y="96.89" width="26.60" height="1.298" fill="#6c8bbc"/>
<rect x="568.80" y="97.89" width="26.60" height="4.292" fill="#7491bb"/>
<rect x="568.80" y="101.88" width="26.60" height="2.296" fill="#6f8ebc"/>
<rect x="568.80" y="103.88" width="26.60" height="2.296" fill="#7390bb"/>
<rect x="568.80" y="105.88" width="26.60" height="3.294" fill="#7693bb"/>
<rect x="568.80" y="108.87" width="26.60" height="1.298" fill="#809ab9"/>
<rect x="568.80" y="109.87" width="26.60" height="2.296" fill="#6e89b6"/>
<rect x="568.80" y="111.86" width="26.60" height="5.291" fill="#5878b8"/>
<rect x="568.80" y="116.85" width="26.60" height="2.296" fill="#5777b8"/>
<rect x="568.80" y="118.85" width="26.60" height="1.298" fill="#5575b7"/>
<rect x="568.80" y="119.85" width="26.60" height="1.298" fill="#5777b8"/>
<rect x="568.80" y="120.85" width="26.60" height="1.298" fill="#5d7bb8"/>
<rect x="568.80" y="121.84" width="26.60" height="1.298" fill="#5474b6"/>
<rect x="568.80" y="122.84" width="26.60" height="1.298" fill="#5575b7"/>
<rect x="568.80" y="123.84" width="26.60" height="1.298" fill="#6884b6"/>
<rect x="568.80" y="124.84" width="26.60" height="2.296" fill="#5676b6"/>
<rect x="568.80" y="126.84" width="26.60" height="2.296" fill="#4569b8"/>
<rect x="568.80" y="128.83" width="26.60" height="1.298" fill="#4b6db7"/>
<rect x="568.80" y="129.83" width="26.60" height="1.298" fill="#5474b6"/>
<rect x="568.80" y="130.83" width="26.60" height="1.298" fill="#7d94b7"/>
<rect x="568.80" y="131.83" width="26.60" height="1.298" fill="#728ab6"/>
<rect x="568.80" y="132.82" width="26.60" height="1.298" fill="#8399b6"/>
<rect x="568.80" y="133.82" width="26.60" height="2.296" fill="#8096b7"/>
<rect x="568.80" y="135.82" width="26.60" height="3.294" fill="#e7876b"/>
<rect x="568.80" y="138.81" width="26.60" height="3.294" fill="#e6856a"/>
<rect x="568.80" y="141.81" width="26.60" height="1.298" fill="#e89976"/>
<rect x="568.80" y="142.80" width="26.60" height="2.296" fill="#e6856a"/>
<rect x="568.80" y="144.80" width="26.60" height="1.298" fill="#e7876b"/>
<rect x="568.80" y="145.80" width="26.60" height="1.298" fill="#ecb085"/>
<rect x="568.80" y="146.80" width="26.60" height="1.298" fill="#ea9a77"/>
<rect x="568.80" y="147.80" width="26.60" height="2.296" fill="#eca780"/>
<rect x="568.80" y="149.79" width="26.60" height="1.298" fill="#ecac83"/>
<rect x="568.80" y="150.79" width="26.60" height="1.298" fill="#eba27d"/>
<rect x="568.80" y="151.79" width="26.60" height="1.298" fill="#eca57f"/>
<rect x="568.80" y="152.79" width="26.60" height="3.294" fill="#ecaa81"/>
<rect x="568.80" y="155.78" width="26.60" height="1.298" fill="#eca880"/>
<rect x="568.80" y="156.78" width="26.60" height="1.298" fill="#eca47e"/>
<rect x="568.80" y="157.78" width="26.60" height="1.298" fill="#eba27d"/>
<rect x="568.80" y="158.77" width="26.60" height="2.296" fill="#ecaa82"/>
<rect x="568.80" y="160.77" width="26.60" height="1.298" fill="#ecab82"/>
<rect x="568.80" y="161.77" width="26.60" height="1.298" fill="#ea9c78"/>
<rect x="568.80" y="162.77" width="26.60" height="2.296" fill="#eba07b"/>
<rect x="568.80" y="164.76" width="26.60" height="2.296" fill="#eca67f"/>
<rect x="568.80" y="166.76" width="26.60" height="1.298" fill="#dd634a"/>
<rect x="568.80" y="167.76" width="26.60" height="2.296" fill="#dc5c45"/>
<rect x="568.80" y="169.75" width="26.60" height="1.298" fill="#e4795e"/>
<rect x="568.80" y="170.75" width="26.60" height="1.298" fill="#e4765c"/>
<rect x="568.80" y="171.75" width="26.60" height="3.294" fill="#e37159"/>
<rect x="568.80" y="174.74" width="26.60" height="1.298" fill="#e4745b"/>
<rect x="568.80" y="175.74" width="26.60" height="1.298" fill="#e58666"/>
<rect x="568.80" y="176.74" width="26.60" height="1.298" fill="#e4755b"/>
<rect x="568.80" y="177.74" width="26.60" height="2.296" fill="#e58163"/>
<rect x="568.80" y="179.73" width="26.60" height="1.298" fill="#e58264"/>
<rect x="568.80" y="180.73" width="26.60" height="2.296" fill="#e57d61"/>
<rect x="568.80" y="182.73" width="26.60" height="3.294" fill="#e58062"/>
<rect x="568.80" y="185.72" width="26.60" height="3.294" fill="#e3745a"/>
<rect x="568.80" y="188.72" width="26.60" height="1.298" fill="#e3735a"/>
<rect x="568.80" y="189.72" width="26.60" height="1.298" fill="#e3745a"/>
<rect x="568.80" y="190.71" width="26.60" height="3.294" fill="#e3735a"/>
<rect x="568.80" y="193.71" width="26.60" height="1.298" fill="#e4785d"/>
<rect x="568.80" y="194.71" width="26.60" height="1.298" fill="#e47b5f"/>
<rect x="568.80" y="195.70" width="26.60" height="1.298" fill="#e4755c"/>
<rect x="568.80" y="196.70" width="26.60" height="1.298" fill="#e58465"/>
<rect x="568.80" y="197.70" width="26.60" height="3.294" fill="#e68968"/>
<rect x="568.80" y="200.70" width="26.60" height="1.298" fill="#e58163"/>
<rect x="568.80" y="201.69" width="26.60" height="3.294" fill="#e4795e"/>
<rect x="568.80" y="204.69" width="26.60" height="2.296" fill="#e58667"/>
<rect x="568.80" y="206.68" width="26.60" height="1.298" fill="#e47a5f"/>
<rect x="568.80" y="207.68" width="26.60" height="1.298" fill="#e16a54"/>
<rect x="568.80" y="208.68" width="26.60" height="2.296" fill="#e26a55"/>
<rect x="568.80" y="210.68" width="26.60" height="3.294" fill="#e26b55"/>
<rect x="568.80" y="213.67" width="26.60" height="2.296" fill="#e3755c"/>
<rect x="568.80" y="215.67" width="26.60" height="1.298" fill="#e16954"/>
<rect x="568.80" y="216.66" width="26.60" height="1.298" fill="#e3725a"/>
<rect x="568.80" y="217.66" width="26.60" height="2.296" fill="#e26c56"/>
<rect x="568.80" y="219.66" width="26.60" height="2.296" fill="#e26d57"/>
<rect x="568.80" y="221.66" width="26.60" height="1.298" fill="#e16a54"/>
<rect x="568.80" y="222.65" width="26.60" height="2.296" fill="#dc5742"/>
<rect x="568.80" y="224.65" width="26.60" height="3.294" fill="#dd5d46"/>
<rect x="568.80" y="227.64" width="26.60" height="3.294" fill="#db513e"/>
<rect x="568.80" y="230.64" width="26.60" height="1.298" fill="#dc5440"/>
<rect x="568.80" y="231.64" width="26.60" height="1.298" fill="#dc5642"/>
<rect x="568.80" y="232.63" width="26.60" height="1.298" fill="#db523f"/>
<rect x="568.80" y="233.63" width="26.60" height="2.296" fill="#de634b"/>
<rect x="568.80" y="235.63" width="26.60" height="1.298" fill="#dc5440"/>
<rect x="568.80" y="236.63" width="26.60" height="1.298" fill="#e4785e"/>
<rect x="568.80" y="237.62" width="26.60" height="1.298" fill="#e4775e"/>
<rect x="568.80" y="238.62" width="26.60" height="1.298" fill="#e57f62"/>
<rect x="568.80" y="239.62" width="26.60" height="2.296" fill="#e4775d"/>
<rect x="568.80" y="241.62" width="26.60" height="2.296" fill="#e58566"/>
<rect x="568.80" y="243.61" width="26.60" height="1.298" fill="#e57f62"/>
<rect x="568.80" y="244.61" width="26.60" height="2.296" fill="#e47c61"/>
<rect x="568.80" y="246.61" width="26.60" height="3.294" fill="#e4785e"/>
<rect x="568.80" y="249.60" width="26.60" height="1.298" fill="#e58667"/>
<rect x="568.80" y="250.60" width="26.60" height="3.294" fill="#e4785e"/>
<rect x="568.80" y="253.59" width="26.60" height="1.298" fill="#e58063"/>
<rect x="568.80" y="254.59" width="26.60" height="1.298" fill="#e68f6d"/>
<rect x="568.80" y="255.59" width="26.60" height="1.298" fill="#e68a6a"/>
<rect x="568.80" y="256.59" width="26.60" height="1.298" fill="#e4765d"/>
<rect x="568.80" y="257.59" width="26.60" height="2.296" fill="#e47d61"/>
<rect x="568.80" y="259.58" width="26.60" height="1.298" fill="#e2725a"/>
<rect x="568.80" y="260.58" width="26.60" height="3.294" fill="#e3755c"/>
<rect x="568.80" y="263.58" width="26.60" height="1.298" fill="#e58466"/>
<rect x="568.80" y="264.57" width="26.60" height="1.298" fill="#e47d62"/>
<rect x="568.80" y="265.57" width="26.60" height="3.294" fill="#e4775d"/>
<rect x="568.80" y="268.57" width="26.60" height="1.298" fill="#e57e62"/>
<rect x="568.80" y="269.56" width="26.60" height="1.298" fill="#e89372"/>
<rect x="568.80" y="270.56" width="26.60" height="1.298" fill="#e7886b"/>
<rect x="568.80" y="271.56" width="26.60" height="1.298" fill="#e78a6c"/>
<rect x="568.80" y="272.56" width="26.60" height="1.298" fill="#e88a6d"/>
<rect x="568.80" y="273.56" width="26.60" height="1.298" fill="#e88f70"/>
<rect x="568.80" y="274.55" width="26.60" height="1.298" fill="#e88a6d"/>
<rect x="568.80" y="275.55" width="26.60" height="1.298" fill="#e78a6d"/>
<rect x="568.80" y="276.55" width="26.60" height="1.298" fill="#e89272"/>
<rect x="568.80" y="277.55" width="26.60" height="1.298" fill="#e99775"/>
<rect x="568.80" y="278.55" width="26.60" height="3.294" fill="#e7876b"/>
<rect x="568.80" y="281.54" width="26.60" height="1.298" fill="#e88b6d"/>
<rect x="568.80" y="282.54" width="26.60" height="3.294" fill="#e7886b"/>
<rect x="568.80" y="285.53" width="26.60" height="2.296" fill="#e88e70"/>
<rect x="568.80" y="287.53" width="26.60" height="1.298" fill="#e88c6e"/>
<rect x="568.80" y="288.53" width="26.60" height="3.294" fill="#e99573"/>
<rect x="568.80" y="291.52" width="26.60" height="1.298" fill="#e88c6e"/>
<rect x="568.80" y="292.52" width="26.60" height="2.296" fill="#e7896c"/>
<rect x="568.80" y="294.52" width="26.60" height="3.294" fill="#e88b6d"/>
<rect x="568.80" y="297.51" width="26.60" height="1.298" fill="#e88a6d"/>
<rect x="568.80" y="298.51" width="26.60" height="2.296" fill="#e88e6f"/>
<rect x="568.80" y="300.51" width="26.60" height="1.298" fill="#e88b6d"/>
<rect x="568.80" y="301.50" width="26.60" height="1.298" fill="#e99473"/>
<rect x="568.80" y="302.50" width="26.60" height="1.298" fill="#e99a77"/>
<rect x="595.10" y="40.00" width="26.60" height="2.296" fill="#879eb0"/>
<rect x="595.10" y="42.00" width="26.60" height="1.298" fill="#899fb0"/>
<rect x="595.10" y="42.99" width="26.60" height="1.298" fill="#8097ae"/>
<rect x="595.10" y="43.99" width="26.60" height="1.298" fill="#889eb0"/>
<rect x="595.10" y="44.99" width="26.60" height="1.298" fill="#9aacaf"/>
<rect x="595.10" y="45.99" width="26.60" height="2.296" fill="#6987b8"/>
<rect x="595.10" y="47.98" width="26.60" height="1.298" fill="#6e8bb8"/>
<rect x="595.10" y="48.98" width="26.60" height="2.296" fill="#6987b8"/>
<rect x="595.10" y="50.98" width="26.60" height="1.298" fill="#6685b7"/>
<rect x="595.10" y="51.98" width="26.60" height="2.296" fill="#6886b8"/>
<rect x="595.10" y="53.97" width="26.60" height="1.298" fill="#6584b7"/>
<rect x="595.10" y="54.97" width="26.60" height="1.298" fill="#6987b8"/>
<rect x="595.10" y="55.97" width="26.60" height="2.296" fill="#748fb7"/>
<rect x="595.10" y="57.97" width="26.60" height="3.294" fill="#7590b7"/>
<rect x="595.10" y="60.96" width="26.60" height="1.298" fill="#6b89b8"/>
<rect x="595.10" y="61.96" width="26.60" height="3.294" fill="#6c8ab8"/>
<rect x="595.10" y="64.95" width="26.60" height="1.298" fill="#6987b8"/>
<rect x="595.10" y="65.95" width="26.60" height="1.298" fill="#6583b7"/>
<rect x="595.10" y="66.95" width="26.60" height="2.296" fill="#7893b6"/>
<rect x="595.10" y="68.95" width="26.60" height="1.298" fill="#7c96b6"/>
<rect x="595.10" y="69.94" width="26.60" height="1.298" fill="#7a94b6"/>
<rect x="595.10" y="70.94" width="26.60" height="1.298" fill="#5f7db5"/>
<rect x="595.10" y="71.94" width="26.60" height="2.296" fill="#7893b6"/>
<rect x="595.10" y="73.94" width="26.60" height="2.296" fill="#6180b5"/>
<rect x="595.10" y="75.93" width="26.60" height="2.296" fill="#6483b6"/>
<rect x="595.10" y="77.93" width="26.60" height="2.296" fill="#6785b7"/>
<rect x="595.10" y="79.92" width="26.60" height="2.296" fill="#3c64b7"/>
<rect x="595.10" y="81.92" width="26.60" height="1.298" fill="#3e66b8"/>
<rect x="595.10" y="82.92" width="26.60" height="1.298" fill="#4169b8"/>
<rect x="595.10" y="83.92" width="26.60" height="1.298" fill="#3f67b8"/>
<rect x="595.10" y="84.91" width="26.60" height="1.298" fill="#5679b6"/>
<rect x="595.10" y="85.91" width="26.60" height="1.298" fill="#6483b4"/>
<rect x="595.10" y="86.91" width="26.60" height="1.298" fill="#3a63b6"/>
<rect x="595.10" y="87.91" width="26.60" height="1.298" fill="#3b63b7"/>
<rect x="595.10" y="88.91" width="26.60" height="1.298" fill="#3a63b7"/>
<rect x="595.10" y="89.91" width="26.60" height="2.296" fill="#4a70b7"/>
<rect x="595.10" y="91.90" width="26.60" height="1.298" fill="#3b64b7"/>
<rect x="595.10" y="92.90" width="26.60" height="1.298" fill="#587abb"/>
<rect x="595.10" y="93.90" width="26.60" height="2.296" fill="#5779bb"/>
<rect x="595.10" y="95.89" width="26.60" height="1.298" fill="#597bbb"/>
<rect x="595.10" y="96.89" width="26.60" height="2.296" fill="#5a7cbc"/>
<rect x="595.10" y="98.89" width="26.60" height="1.298" fill="#7691b8"/>
<rect x="595.10" y="99.89" width="26.60" height="1.298" fill="#5a7cbc"/>
<rect x="595.10" y="100.88" width="26.60" height="2.296" fill="#5678bb"/>
<rect x="595.10" y="102.88" width="26.60" height="1.298" fill="#597bbc"/>
<rect x="595.10" y="103.88" width="26.60" height="2.296" fill="#6081bb"/>
<rect x="595.10" y="105.88" width="26.60" height="2.296" fill="#7f97b6"/>
<rect x="595.10" y="107.87" width="26.60" height="1.298" fill="#94a7b3"/>
<rect x="595.10" y="108.87" width="26.60" height="1.298" fill="#a8b6b1"/>
<rect x="595.10" y="109.87" width="26.60" height="1.298" fill="#7e96b6"/>
<rect x="595.10" y="110.87" width="26.60" height="2.296" fill="#7e96b5"/>
<rect x="595.10" y="112.86" width="26.60" height="2.296" fill="#8a9fb5"/>
<rect x="595.10" y="114.86" width="26.60" height="1.298" fill="#7e97b6"/>
<rect x="595.10" y="115.86" width="26.60" height="1.298" fill="#7a93b5"/>
<rect x="595.10" y="116.85" width="26.60" height="2.296" fill="#7a92b5"/>
<rect x="595.10" y="118.85" width="26.60" height="3.294" fill="#9fafb2"/>
<rect x="595.10" y="121.84" width="26.60" height="1.298" fill="#7891b4"/>
<rect x="595.10" y="122.84" width="26.60" height="2.296" fill="#99abb3"/>
<rect x="595.10" y="124.84" width="26.60" height="1.298" fill="#6b84b7"/>
<rect x="595.10" y="125.84" width="26.60" height="2.296" fill="#7c91b7"/>
<rect x="595.10" y="127.83" width="26.60" height="1.298" fill="#7189b8"/>
<rect x="595.10" y="128.83" width="26.60" height="2.296" fill="#7088b8"/>
<rect x="595.10" y="130.83" width="26.60" height="1.298" fill="#899fb4"/>
<rect x="595.10" y="131.83" width="26.60" height="2.296" fill="#7b93b1"/>
<rect x="595.10" y="133.82" width="26.60" height="1.298" fill="#8ea3b3"/>
<rect x="595.10" y="134.82" width="26.60" height="1.298" fill="#95a8b3"/>
<rect x="595.10" y="135.82" width="26.60" height="1.298" fill="#e2755a"/>
<rect x="595.10" y="136.82" width="26.60" height="1.298" fill="#df634e"/>
<rect x="595.10" y="137.81" width="26.60" height="2.296" fill="#e17359"/>
<rect x="595.10" y="139.81" width="26.60" height="2.296" fill="#e16d54"/>
<rect x="595.10" y="141.81" width="26.60" height="1.298" fill="#df644f"/>
<rect x="595.10" y="142.80" width="26.60" height="3.294" fill="#e06650"/>
<rect x="595.10" y="145.80" width="26.60" height="1.298" fill="#dc4c3c"/>
<rect x="595.10" y="146.80" width="26.60" height="1.298" fill="#dd5442"/>
<rect x="595.10" y="147.80" width="26.60" height="1.298" fill="#dc4c3c"/>
<rect x="595.10" y="148.79" width="26.60" height="3.294" fill="#dc503f"/>
<rect x="595.10" y="151.79" width="26.60" height="1.298" fill="#de5c47"/>
<rect x="595.10" y="152.79" width="26.60" height="2.296" fill="#dd5240"/>
<rect x="595.10" y="154.78" width="26.60" height="1.298" fill="#dc4c3c"/>
<rect x="595.10" y="155.78" width="26.60" height="1.298" fill="#de614b"/>
<rect x="595.10" y="156.78" width="26.60" height="1.298" fill="#de5d48"/>
<rect x="595.10" y="157.78" width="26.60" height="5.291" fill="#dc4c3c"/>
<rect x="595.10" y="162.77" width="26.60" height="2.296" fill="#df624b"/>
<rect x="595.10" y="164.76" width="26.60" height="2.296" fill="#dd5341"/>
<rect x="595.10" y="166.76" width="26.60" height="1.298" fill="#eb9c7a"/>
<rect x="595.10" y="167.76" width="26.60" height="1.298" fill="#eb9d7b"/>
<rect x="595.10" y="168.76" width="26.60" height="1.298" fill="#eca781"/>
<rect x="595.10" y="169.75" width="26.60" height="1.298" fill="#e79373"/>
<rect x="595.10" y="170.75" width="26.60" height="2.296" fill="#e68f71"/>
<rect x="595.10" y="172.75" width="26.60" height="2.296" fill="#e6866c"/>
<rect x="595.10" y="174.74" width="26.60" height="1.298" fill="#e5846b"/>
<rect x="595.10" y="175.74" width="26.60" height="1.298" fill="#e5836a"/>
<rect x="595.10" y="176.74" width="26.60" height="1.298" fill="#e68f71"/>
<rect x="595.10" y="177.74" width="26.60" height="3.294" fill="#e5836a"/>
<rect x="595.10" y="180.73" width="26.60" height="5.291" fill="#e47c65"/>
<rect x="595.10" y="185.72" width="26.60" height="2.296" fill="#e17058"/>
<rect x="595.10" y="187.72" width="26.60" height="1.298" fill="#e1745b"/>
<rect x="595.10" y="188.72" width="26.60" height="3.294" fill="#e17058"/>
<rect x="595.10" y="191.71" width="26.60" height="1.298" fill="#e16e57"/>
<rect x="595.10" y="192.71" width="26.60" height="1.298" fill="#e17058"/>
<rect x="595.10" y="193.71" width="26.60" height="1.298" fill="#e17159"/>
<rect x="595.10" y="194.71" width="26.60" height="1.298" fill="#e37f62"/>
<rect x="595.10" y="195.70" width="26.60" height="1.298" fill="#e1755b"/>
<rect x="595.10" y="196.70" width="26.60" height="3.294" fill="#e27b5f"/>
<rect x="595.10" y="199.70" width="26.60" height="3.294" fill="#e16f58"/>
<rect x="595.10" y="202.69" width="26.60" height="2.296" fill="#e17058"/>
<rect x="595.10" y="204.69" width="26.60" height="1.298" fill="#e57b65"/>
<rect x="595.10" y="205.69" width="26.60" height="1.298" fill="#e6856b"/>
<rect x="595.10" y="206.68" width="26.60" height="1.298" fill="#e67f67"/>
<rect x="595.10" y="207.68" width="26.60" height="1.298" fill="#e57d65"/>
<rect x="595.10" y="208.68" width="26.60" height="2.296" fill="#e68269"/>
<rect x="595.10" y="210.68" width="26.60" height="3.294" fill="#e67f67"/>
<rect x="595.10" y="213.67" width="26.60" height="2.296" fill="#e68068"/>
<rect x="595.10" y="215.67" width="26.60" height="1.298" fill="#e68269"/>
<rect x="595.10" y="216.66" width="26.60" height="1.298" fill="#e47862"/>
<rect x="595.10" y="217.66" width="26.60" height="1.298" fill="#e57d66"/>
<rect x="595.10" y="218.66" width="26.60" height="3.294" fill="#e68168"/>
<rect x="595.10" y="221.66" width="26.60" height="1.298" fill="#e6846a"/>
<rect x="595.10" y="222.65" width="26.60" height="2.296" fill="#eb9b7a"/>
<rect x="595.10" y="224.65" width="26.60" height="1.298" fill="#eb9f7c"/>
<rect x="595.10" y="225.65" width="26.60" height="3.294" fill="#ea9375"/>
<rect x="595.10" y="228.64" width="26.60" height="1.298" fill="#eb9878"/>
<rect x="595.10" y="229.64" width="26.60" height="1.298" fill="#eb9e7b"/>
<rect x="595.10" y="230.64" width="26.60" height="1.298" fill="#e99072"/>
<rect x="595.10" y="231.64" width="26.60" height="1.298" fill="#eb9f7c"/>
<rect x="595.10" y="232.63" width="26.60" height="3.294" fill="#eba57f"/>
<rect x="595.10" y="235.63" width="26.60" height="1.298" fill="#e88d70"/>
<rect x="595.10" y="236.63" width="26.60" height="2.296" fill="#e37861"/>
<rect x="595.10" y="238.62" width="26.60" height="3.294" fill="#e47c64"/>
<rect x="595.10" y="241.62" width="26.60" height="1.298" fill="#e37b63"/>
<rect x="595.10" y="242.62" width="26.60" height="1.298" fill="#e5876a"/>
<rect x="595.10" y="243.61" width="26.60" height="2.296" fill="#e2745e"/>
<rect x="595.10" y="245.61" width="26.60" height="1.298" fill="#e2735e"/>
<rect x="595.10" y="246.61" width="26.60" height="1.298" fill="#e47c64"/>
<rect x="595.10" y="247.61" width="26.60" height="1.298" fill="#e3755f"/>
<rect x="595.10" y="248.60" width="26.60" height="2.296" fill="#e47f65"/>
<rect x="595.10" y="250.60" width="26.60" height="2.296" fill="#e48267"/>
<rect x="595.10" y="252.60" width="26.60" height="2.296" fill="#e58c6e"/>
<rect x="595.10" y="254.59" width="26.60" height="1.298" fill="#e37a63"/>
<rect x="595.10" y="255.59" width="26.60" height="2.296" fill="#e37660"/>
<rect x="595.10" y="257.59" width="26.60" height="3.294" fill="#e3755f"/>
<rect x="595.10" y="260.58" width="26.60" height="2.296" fill="#e2735e"/>
<rect x="595.10" y="262.58" width="26.60" height="3.294" fill="#e3745f"/>
<rect x="595.10" y="265.57" width="26.60" height="3.294" fill="#e2735e"/>
<rect x="595.10" y="268.57" width="26.60" height="1.298" fill="#e37962"/>
<rect x="595.10" y="269.56" width="26.60" height="1.298" fill="#dd5946"/>
<rect x="595.10" y="270.56" width="26.60" height="1.298" fill="#de604b"/>
<rect x="595.10" y="271.56" width="26.60" height="2.296" fill="#de5d49"/>
<rect x="595.10" y="273.56" width="26.60" height="2.296" fill="#df664e"/>
<rect x="595.10" y="275.55" width="26.60" height="2.296" fill="#de5d48"/>
<rect x="595.10" y="277.55" width="26.60" height="1.298" fill="#df634d"/>
<rect x="595.10" y="278.55" width="26.60" height="3.294" fill="#de5b47"/>
<rect x="595.10" y="281.54" width="26.60" height="1.298" fill="#dd5946"/>
<rect x="595.10" y="282.54" width="26.60" height="2.296" fill="#df604b"/>
<rect x="595.10" y="284.54" width="26.60" height="1.298" fill="#df634d"/>
<rect x="595.10" y="285.53" width="26.60" height="2.296" fill="#de5b47"/>
<rect x="595.10" y="287.53" width="26.60" height="2.296" fill="#de5c48"/>
<rect x="595.10" y="289.53" width="26.60" height="1.298" fill="#e1765a"/>
<rect x="595.10" y="290.52" width="26.60" height="1.298" fill="#df614b"/>
<rect x="595.10" y="291.52" width="26.60" height="1.298" fill="#de5c48"/>
<rect x="595.10" y="292.52" width="26.60" height="1.298" fill="#e06f55"/>
<rect x="595.10" y="293.52" width="26.60" height="2.296" fill="#de5c48"/>
<rect x="595.10" y="295.52" width="26.60" height="1.298" fill="#de5b47"/>
<rect x="595.10" y="296.51" width="26.60" height="2.296" fill="#de5f4a"/>
<rect x="595.10" y="298.51" width="26.60" height="1.298" fill="#de5b48"/>
<rect x="595.10" y="299.51" width="26.60" height="1.298" fill="#e07257"/>
<rect x="595.10" y="300.51" width="26.60" height="1.298" fill="#e07156"/>
<rect x="595.10" y="301.50" width="26.60" height="1.298" fill="#de5e49"/>
<rect x="595.10" y="302.50" width="26.60" height="1.298" fill="#df614b"/>
<path d="M529.4 40V28.5H555.6V40 M503.1 40V16.4H542.5V28.5 M582.0 40V16.4H608.2V40 M522.8 16.4V4.8H595.1V16.4" fill="none" stroke="#333" stroke-width="1"/>
<text transform="translate(509.85,315.60) rotate(-45)" font-size="11.5" text-anchor="end" fill="#111">T65</text>
<text transform="translate(536.15,315.60) rotate(-45)" font-size="11.5" text-anchor="end" fill="#111">T25</text>
<text transform="translate(562.45,315.60) rotate(-45)" font-size="11.5" text-anchor="end" fill="#111">T45</text>
<text transform="translate(588.75,315.60) rotate(-45)" font-size="11.5" text-anchor="end" fill="#111">T100</text>
<text transform="translate(615.05,315.60) rotate(-45)" font-size="11.5" text-anchor="end" fill="#111">T130</text>
<defs><linearGradient id="cb" x1="0" y1="0" x2="0" y2="1"><stop offset="0.000" stop-color="#c8161c"/><stop offset="0.125" stop-color="#d65044"/><stop offset="0.250" stop-color="#e48a6c"/><stop offset="0.375" stop-color="#e9ba8a"/><stop offset="0.500" stop-color="#eeeaa8"/><stop offset="0.625" stop-color="#b4beb0"/><stop offset="0.750" stop-color="#7b93b8"/><stop offset="0.875" stop-color="#4260aa"/><stop offset="1.000" stop-color="#0a2d9b"/></linearGradient></defs>
<rect x="646.3" y="41.3" width="15.2" height="118.2" fill="url(#cb)"/>
<line x1="662" y1="41.3" x2="662" y2="159.6" stroke="#000" stroke-width="0.8"/>
<line x1="662" y1="41.30" x2="664.5" y2="41.30" stroke="#000" stroke-width="1"/>
<text x="665.8" y="45.30" font-size="11" fill="#111">2.0</text>
<line x1="662" y1="70.80" x2="664.5" y2="70.80" stroke="#000" stroke-width="1"/>
<text x="665.8" y="74.80" font-size="11" fill="#111">1.0</text>
<line x1="662" y1="100.30" x2="664.5" y2="100.30" stroke="#000" stroke-width="1"/>
<text x="665.8" y="104.30" font-size="11" fill="#111">0.0</text>
<line x1="662" y1="129.80" x2="664.5" y2="129.80" stroke="#000" stroke-width="1"/>
<text x="665.8" y="133.80" font-size="11" fill="#111">-1.0</text>
<line x1="662" y1="159.30" x2="664.5" y2="159.30" stroke="#000" stroke-width="1"/>
<text x="665.8" y="163.30" font-size="11" fill="#111">-2.0</text>
<rect x="467" y="40.0" width="22.50" height="263.5" fill="#000"/>
<path d="M489.50 40.44H469.65V40.61H489.50M489.50 40.26H463.11V40.53H469.65M489.50 40.97H471.73V41.14H489.50M489.50 40.79H466.67V41.05H471.73M489.50 41.49H473.92V41.67H489.50M489.50 41.32H470.45V41.58H473.92M489.50 42.02H471.96V42.20H489.50M489.50 41.84H469.59V42.11H471.96M470.45 41.45H467.02V41.98H469.59M489.50 42.37H472.60V42.55H489.50M489.50 42.72H472.16V42.90H489.50M472.60 42.46H468.27V42.81H472.16M489.50 43.43H476.61V43.60H489.50M489.50 43.25H474.19V43.51H476.61M489.50 43.07H469.53V43.38H474.19M489.50 43.78H472.75V43.95H489.50M489.50 44.48H481.89V44.66H489.50M489.50 44.30H472.60V44.57H481.89M489.50 44.13H471.93V44.44H472.60M472.75 43.86H469.22V44.28H471.93M469.53 43.23H467.10V44.07H469.22M468.27 42.63H464.41V43.65H467.10M467.02 41.71H463.14V43.14H464.41M466.67 40.92H462.50V42.43H463.14M463.11 40.40H458.67V41.68H462.50M489.50 40.09H456.85V41.04H458.67M489.50 45.01H476.65V45.18H489.50M489.50 44.83H473.52V45.09H476.65M489.50 45.36H469.86V45.53H489.50M473.52 44.96H468.68V45.45H469.86M489.50 45.71H471.24V45.88H489.50M489.50 46.41H473.41V46.59H489.50M489.50 46.24H469.87V46.50H473.41M489.50 46.06H468.91V46.37H469.87M471.24 45.80H466.59V46.21H468.91M468.68 45.20H463.82V46.01H466.59M489.50 46.76H472.22V46.94H489.50M489.50 47.11H471.92V47.29H489.50M472.22 46.85H468.26V47.20H471.92M489.50 47.47H474.91V47.64H489.50M489.50 47.99H475.20V48.17H489.50M489.50 48.34H473.78V48.52H489.50M475.20 48.08H471.56V48.43H473.78M489.50 47.82H469.66V48.26H471.56M474.91 47.55H468.26V48.04H469.66M468.26 47.03H465.45V47.80H468.26M489.50 48.87H474.24V49.05H489.50M489.50 48.70H471.44V48.96H474.24M489.50 49.40H474.48V49.57H489.50M489.50 49.22H473.63V49.49H474.48M489.50 49.75H472.87V49.93H489.50M473.63 49.35H469.79V49.84H472.87M471.44 48.83H467.86V49.60H469.79M489.50 50.10H473.79V50.28H489.50M489.50 50.63H474.18V50.80H489.50M489.50 50.45H473.05V50.72H474.18M473.79 50.19H471.40V50.58H473.05M489.50 51.15H472.85V51.33H489.50M489.50 50.98H469.68V51.24H472.85M471.40 50.39H467.38V51.11H469.68M467.86 49.21H465.24V50.75H467.38M489.50 51.51H470.90V51.68H489.50M489.50 52.03H473.85V52.21H489.50M489.50 51.86H469.70V52.12H473.85M470.90 51.59H468.35V51.99H469.70M489.50 52.38H472.08V52.56H489.50M489.50 53.09H474.79V53.26H489.50M489.50 52.91H472.86V53.17H474.79M489.50 52.74H470.24V53.04H472.86M472.08 52.47H468.10V52.89H470.24M468.35 51.79H464.57V52.68H468.10M465.24 49.98H462.64V52.24H464.57M465.45 47.41H462.08V51.11H462.64M463.82 45.60H460.51V49.26H462.08M489.50 53.61H468.86V53.79H489.50M489.50 53.44H465.77V53.70H468.86M489.50 54.14H471.20V54.32H489.50M489.50 53.97H467.96V54.23H471.20M489.50 54.67H471.85V54.84H489.50M489.50 54.49H464.37V54.76H471.85M467.96 54.10H463.81V54.62H464.37M489.50 55.02H468.60V55.20H489.50M489.50 55.55H468.83V55.72H489.50M489.50 55.37H467.63V55.63H468.83M468.60 55.11H462.94V55.50H467.63M463.81 54.36H461.07V55.30H462.94M465.77 53.57H458.33V54.83H461.07M460.51 47.43H456.79V54.20H458.33M456.85 40.56H454.52V50.82H456.79M489.50 55.90H464.17V56.07H489.50M489.50 56.60H472.34V56.78H489.50M489.50 56.42H468.91V56.69H472.34M489.50 56.25H468.26V56.56H468.91M489.50 56.95H471.93V57.13H489.50M489.50 57.30H469.47V57.48H489.50M471.93 57.04H467.15V57.39H469.47M468.26 56.40H462.72V57.22H467.15M489.50 57.83H471.18V58.01H489.50M489.50 58.36H474.34V58.53H489.50M489.50 58.18H470.71V58.45H474.34M471.18 57.92H466.17V58.31H470.71M489.50 58.88H468.75V59.06H489.50M489.50 58.71H464.61V58.97H468.75M466.17 58.12H463.33V58.84H464.61M489.50 57.65H462.27V58.48H463.33M462.72 56.81H459.63V58.07H462.27M464.17 55.99H457.19V57.44H459.63M489.50 59.59H473.65V59.76H489.50M489.50 59.41H469.43V59.67H473.65M489.50 60.11H474.93V60.29H489.50M489.50 59.94H469.39V60.20H474.93M469.43 59.54H465.52V60.07H469.39M489.50 60.64H472.31V60.82H489.50M489.50 60.47H471.30V60.73H472.31M489.50 61.34H475.13V61.52H489.50M489.50 61.17H471.17V61.43H475.13M489.50 60.99H467.39V61.30H471.17M471.30 60.60H465.51V61.15H467.39M465.52 59.81H463.78V60.87H465.51M489.50 59.24H461.04V60.34H463.78M489.50 61.87H474.67V62.05H489.50M489.50 61.69H469.82V61.96H474.67M489.50 62.22H469.67V62.40H489.50M469.82 61.83H466.78V62.31H469.67M489.50 62.75H468.76V62.92H489.50M489.50 62.57H466.58V62.84H468.76M466.78 62.07H460.56V62.70H466.58M461.04 59.79H458.13V62.39H460.56M489.50 63.10H474.33V63.28H489.50M489.50 63.45H473.50V63.63H489.50M489.50 64.15H475.20V64.33H489.50M489.50 63.98H474.49V64.24H475.20M489.50 63.80H471.19V64.11H474.49M473.50 63.54H469.55V63.96H471.19M474.33 63.19H468.31V63.75H469.55M489.50 64.86H476.64V65.03H489.50M489.50 64.68H476.19V64.94H476.64M489.50 65.21H474.71V65.38H489.50M476.19 64.81H472.10V65.30H474.71M489.50 64.51H471.01V65.05H472.10M489.50 65.74H473.59V65.91H489.50M489.50 65.56H472.47V65.82H473.59M489.50 66.09H474.04V66.26H489.50M489.50 66.79H475.30V66.96H489.50M489.50 66.61H473.57V66.88H475.30M489.50 66.44H471.26V66.75H473.57M474.04 66.17H469.52V66.59H471.26M472.47 65.69H468.23V66.38H469.52M471.01 64.78H467.98V66.04H468.23M468.31 63.47H464.78V65.41H467.98M489.50 67.32H475.79V67.49H489.50M489.50 67.14H474.73V67.40H475.79M489.50 67.67H472.99V67.84H489.50M474.73 67.27H470.71V67.76H472.99M489.50 68.02H473.16V68.19H489.50M489.50 68.55H475.59V68.72H489.50M489.50 68.37H471.34V68.63H475.59M473.16 68.11H469.30V68.50H471.34M470.71 67.51H467.49V68.30H469.30M489.50 69.42H478.11V69.60H489.50M489.50 69.25H474.56V69.51H478.11M489.50 69.07H473.00V69.38H474.56M489.50 68.90H471.20V69.23H473.00M489.50 69.78H474.76V69.95H489.50M489.50 70.13H473.18V70.30H489.50M474.76 69.86H470.35V70.21H473.18M471.20 69.06H467.14V70.04H470.35M467.49 67.91H465.39V69.55H467.14M489.50 70.48H474.05V70.65H489.50M489.50 71.01H474.10V71.18H489.50M489.50 70.83H472.98V71.09H474.10M474.05 70.57H470.87V70.96H472.98M489.50 71.53H474.05V71.71H489.50M489.50 71.36H472.67V71.62H474.05M489.50 71.88H477.47V72.06H489.50M489.50 72.23H474.80V72.41H489.50M477.47 71.97H473.53V72.32H474.80M489.50 72.76H476.27V72.94H489.50M489.50 72.59H474.89V72.85H476.27M489.50 73.29H475.69V73.46H489.50M489.50 73.11H474.03V73.38H475.69M474.89 72.72H471.43V73.24H474.03M473.53 72.15H469.35V72.98H471.43M472.67 71.49H468.46V72.56H469.35M470.87 70.76H465.38V72.03H468.46M465.39 68.73H462.99V71.39H465.38M464.78 64.44H462.17V70.06H462.99M489.50 73.64H476.60V73.82H489.50M489.50 73.99H474.49V74.17H489.50M476.60 73.73H473.16V74.08H474.49M489.50 74.34H475.92V74.52H489.50M489.50 74.69H473.18V74.87H489.50M475.92 74.43H469.35V74.78H473.18M473.16 73.90H468.91V74.61H469.35M489.50 75.22H470.92V75.40H489.50M489.50 75.05H469.27V75.31H470.92M489.50 75.57H476.93V75.75H489.50M489.50 75.92H475.34V76.10H489.50M476.93 75.66H471.09V76.01H475.34M489.50 76.28H474.03V76.45H489.50M489.50 76.63H472.05V76.80H489.50M474.03 76.36H469.73V76.71H472.05M471.09 75.84H468.31V76.54H469.73M469.27 75.18H467.46V76.19H468.31M468.91 74.25H463.62V75.68H467.46M489.50 77.15H475.83V77.33H489.50M489.50 76.98H471.55V77.24H475.83M489.50 77.50H474.19V77.68H489.50M489.50 77.86H472.31V78.03H489.50M474.19 77.59H471.43V77.94H472.31M471.55 77.11H468.10V77.77H471.43M489.50 78.21H472.38V78.38H489.50M489.50 78.73H474.60V78.91H489.50M489.50 78.56H474.06V78.82H474.60M489.50 79.09H473.34V79.26H489.50M474.06 78.69H469.67V79.17H473.34M472.38 78.30H467.41V78.93H469.67M468.10 77.44H466.26V78.61H467.41M489.50 79.44H470.27V79.61H489.50M489.50 79.79H473.13V79.96H489.50M489.50 80.14H471.47V80.32H489.50M473.13 79.88H469.15V80.23H471.47M470.27 79.53H467.09V80.05H469.15M489.50 80.84H476.31V81.02H489.50M489.50 80.67H473.04V80.93H476.31M489.50 80.49H470.11V80.80H473.04M489.50 81.19H476.61V81.37H489.50M489.50 81.72H473.73V81.90H489.50M489.50 81.55H471.34V81.81H473.73M476.61 81.28H470.10V81.68H471.34M470.11 80.64H466.73V81.48H470.10M467.09 79.79H465.61V81.06H466.73M466.26 78.03H462.22V80.43H465.61M463.62 74.97H460.89V79.23H462.22M462.17 67.25H459.44V77.10H460.89M489.50 82.60H477.19V82.77H489.50M489.50 82.42H476.80V82.69H477.19M489.50 82.25H470.12V82.56H476.80M489.50 83.30H475.12V83.48H489.50M489.50 83.13H473.04V83.39H475.12M489.50 82.95H469.01V83.26H473.04M470.12 82.40H468.13V83.10H469.01M489.50 82.07H466.69V82.75H468.13M489.50 83.65H470.11V83.83H489.50M489.50 84.00H473.30V84.18H489.50M489.50 84.36H471.24V84.53H489.50M473.30 84.09H466.73V84.44H471.24M470.11 83.74H464.55V84.27H466.73M466.69 82.41H461.51V84.00H464.55M489.50 84.88H476.98V85.06H489.50M489.50 84.71H471.29V84.97H476.98M489.50 85.23H473.11V85.41H489.50M489.50 85.94H480.15V86.11H489.50M489.50 85.76H478.37V86.02H480.15M489.50 86.46H478.98V86.64H489.50M489.50 86.29H474.66V86.55H478.98M478.37 85.89H471.91V86.42H474.66M489.50 85.59H470.22V86.16H471.91M473.11 85.32H468.93V85.87H470.22M489.50 86.82H476.45V86.99H489.50M489.50 87.17H474.68V87.34H489.50M476.45 86.90H472.68V87.25H474.68M489.50 87.87H477.53V88.04H489.50M489.50 87.69H473.76V87.96H477.53M489.50 87.52H470.98V87.83H473.76M472.68 87.08H469.23V87.67H470.98M489.50 88.22H473.64V88.40H489.50M489.50 88.75H474.78V88.92H489.50M489.50 88.57H471.19V88.84H474.78M473.64 88.31H469.20V88.70H471.19M469.23 87.38H466.15V88.51H469.20M468.93 85.60H464.68V87.94H466.15M471.29 84.84H463.38V86.77H464.68M489.50 89.10H471.56V89.27H489.50M489.50 89.45H474.48V89.63H489.50M489.50 89.80H472.59V89.98H489.50M474.48 89.54H470.20V89.89H472.59M471.56 89.19H468.82V89.71H470.20M489.50 90.50H476.03V90.68H489.50M489.50 90.33H471.83V90.59H476.03M489.50 90.15H470.73V90.46H471.83M489.50 91.03H473.47V91.21H489.50M489.50 90.86H471.37V91.12H473.47M489.50 91.56H475.92V91.73H489.50M489.50 91.38H475.52V91.65H475.92M489.50 91.91H474.03V92.09H489.50M475.52 91.51H470.93V92.00H474.03M471.37 90.99H468.95V91.76H470.93M470.73 90.31H467.23V91.37H468.95M468.82 89.45H464.13V90.84H467.23M489.50 92.26H472.82V92.44H489.50M489.50 92.79H473.10V92.96H489.50M489.50 92.61H468.21V92.88H473.10M472.82 92.35H467.49V92.74H468.21M489.50 93.14H471.31V93.31H489.50M489.50 93.49H471.18V93.67H489.50M471.31 93.23H468.06V93.58H471.18M489.50 94.19H475.33V94.37H489.50M489.50 94.02H473.54V94.28H475.33M489.50 93.84H473.39V94.15H473.54M489.50 94.54H473.34V94.72H489.50M489.50 95.07H475.56V95.25H489.50M489.50 94.90H471.43V95.16H475.56M473.34 94.63H469.50V95.03H471.43M473.39 94.00H467.97V94.83H469.50M468.06 93.40H465.12V94.41H467.97M467.49 92.55H463.35V93.91H465.12M464.13 90.14H461.60V93.23H463.35M463.38 85.80H459.75V91.69H461.60M461.51 83.21H456.89V88.74H459.75M459.44 72.17H455.90V85.98H456.89M458.13 61.09H454.73V79.08H455.90M457.19 56.71H452.83V70.08H454.73M454.52 45.69H451.21V63.40H452.83M489.50 95.60H468.89V95.77H489.50M489.50 95.42H465.40V95.69H468.89M489.50 95.95H464.27V96.13H489.50M465.40 95.55H461.55V96.04H464.27M489.50 96.48H465.55V96.65H489.50M489.50 96.83H471.64V97.00H489.50M489.50 97.18H470.46V97.36H489.50M471.64 96.92H467.93V97.27H470.46M489.50 97.71H470.35V97.88H489.50M489.50 97.53H467.86V97.79H470.35M467.93 97.09H465.41V97.66H467.86M465.55 96.56H462.97V97.38H465.41M489.50 96.30H459.84V96.97H462.97M461.55 95.80H457.55V96.64H459.84M489.50 98.23H471.33V98.41H489.50M489.50 98.58H470.32V98.76H489.50M471.33 98.32H468.99V98.67H470.32M489.50 98.06H464.36V98.50H468.99M489.50 99.11H469.70V99.29H489.50M489.50 98.94H464.29V99.20H469.70M464.36 98.28H461.58V99.07H464.29M489.50 99.64H473.75V99.81H489.50M489.50 99.46H472.54V99.73H473.75M489.50 99.99H470.69V100.17H489.50M472.54 99.59H468.15V100.08H470.69M489.50 100.52H475.28V100.69H489.50M489.50 100.34H471.95V100.60H475.28M489.50 101.04H476.57V101.22H489.50M489.50 100.87H473.63V101.13H476.57M489.50 101.57H478.06V101.75H489.50M489.50 101.40H472.53V101.66H478.06M489.50 102.27H477.78V102.45H489.50M489.50 102.10H474.28V102.36H477.78M489.50 101.92H471.69V102.23H474.28M472.53 101.53H469.81V102.08H471.69M473.63 101.00H468.96V101.80H469.81M471.95 100.47H466.85V101.40H468.96M468.15 99.84H464.51V100.94H466.85M489.50 102.63H472.74V102.80H489.50M489.50 102.98H475.76V103.15H489.50M489.50 103.50H472.29V103.68H489.50M489.50 103.33H470.33V103.59H472.29M475.76 103.06H467.87V103.46H470.33M472.74 102.71H466.67V103.26H467.87M489.50 103.85H471.14V104.03H489.50M489.50 104.38H472.26V104.56H489.50M489.50 104.21H470.14V104.47H472.26M471.14 103.94H468.85V104.34H470.14M489.50 104.91H476.62V105.08H489.50M489.50 104.73H472.72V105.00H476.62M489.50 105.44H473.21V105.61H489.50M489.50 105.26H470.25V105.52H473.21M472.72 104.86H468.39V105.39H470.25M468.85 104.14H465.79V105.13H468.39M466.67 102.99H463.99V104.63H465.79M464.51 100.39H461.34V103.81H463.99M461.58 98.67H458.68V102.10H461.34M489.50 106.31H475.00V106.49H489.50M489.50 106.14H473.86V106.40H475.00M489.50 105.96H468.17V106.27H473.86M489.50 105.79H465.77V106.12H468.17M489.50 106.84H473.42V107.02H489.50M489.50 106.67H468.18V106.93H473.42M489.50 107.19H470.82V107.37H489.50M489.50 107.90H476.16V108.07H489.50M489.50 107.72H471.85V107.98H476.16M489.50 107.54H471.32V107.85H471.85M489.50 108.42H471.24V108.60H489.50M489.50 108.25H468.27V108.51H471.24M471.32 107.70H465.55V108.38H468.27M470.82 107.28H465.01V108.04H465.55M468.18 106.80H463.15V107.66H465.01M465.77 105.95H460.99V107.23H463.15M489.50 108.95H472.79V109.12H489.50M489.50 108.77H468.15V109.04H472.79M489.50 109.65H474.30V109.83H489.50M489.50 109.48H471.58V109.74H474.30M489.50 109.30H468.04V109.61H471.58M468.15 108.91H463.22V109.45H468.04M489.50 110.35H476.83V110.53H489.50M489.50 110.18H474.16V110.44H476.83M489.50 110.00H470.10V110.31H474.16M489.50 110.88H470.97V111.06H489.50M489.50 110.71H469.57V110.97H470.97M470.10 110.16H466.30V110.84H469.57M489.50 111.23H474.28V111.41H489.50M489.50 111.76H474.12V111.94H489.50M489.50 111.58H471.87V111.85H474.12M474.28 111.32H468.95V111.72H471.87M489.50 112.11H473.90V112.29H489.50M489.50 112.46H471.87V112.64H489.50M473.90 112.20H471.22V112.55H471.87M489.50 112.81H470.50V112.99H489.50M471.22 112.37H467.65V112.90H470.50M468.95 111.52H466.00V112.64H467.65M466.30 110.50H463.78V112.08H466.00M489.50 113.34H475.01V113.52H489.50M489.50 113.17H470.28V113.43H475.01M489.50 113.87H475.22V114.04H489.50M489.50 113.69H473.12V113.96H475.22M489.50 114.39H473.99V114.57H489.50M489.50 114.22H470.46V114.48H473.99M473.12 113.82H468.22V114.35H470.46M470.28 113.30H466.05V114.09H468.22M489.50 114.75H471.57V114.92H489.50M489.50 115.27H472.53V115.45H489.50M489.50 115.10H469.87V115.36H472.53M489.50 115.62H474.48V115.80H489.50M489.50 115.98H471.27V116.15H489.50M474.48 115.71H468.65V116.06H471.27M469.87 115.23H467.16V115.89H468.65M471.57 114.83H465.55V115.56H467.16M466.05 113.69H462.95V115.20H465.55M463.78 111.29H462.00V114.44H462.95M463.22 109.18H458.86V112.87H462.00M460.99 106.59H457.11V111.02H458.86M458.68 100.39H455.34V108.81H457.11M457.55 96.22H454.17V104.60H455.34M489.50 116.33H470.49V116.50H489.50M489.50 116.68H472.89V116.85H489.50M489.50 117.21H475.57V117.38H489.50M489.50 117.03H470.55V117.29H475.57M472.89 116.77H467.34V117.16H470.55M470.49 116.42H462.22V116.96H467.34M489.50 117.73H473.08V117.91H489.50M489.50 117.56H468.66V117.82H473.08M489.50 118.08H476.52V118.26H489.50M489.50 118.44H474.23V118.61H489.50M476.52 118.17H471.27V118.52H474.23M489.50 118.79H470.85V118.96H489.50M471.27 118.35H467.49V118.87H470.85M489.50 119.14H474.62V119.31H489.50M489.50 119.49H473.07V119.66H489.50M474.62 119.23H471.25V119.58H473.07M489.50 120.19H473.01V120.37H489.50M489.50 120.02H471.72V120.28H473.01M489.50 119.84H470.52V120.15H471.72M471.25 119.40H466.67V119.99H470.52M467.49 118.61H464.16V119.70H466.67M468.66 117.69H463.84V119.15H464.16M489.50 120.89H473.18V121.07H489.50M489.50 120.72H470.37V120.98H473.18M489.50 120.54H468.07V120.85H470.37M489.50 121.25H468.94V121.42H489.50M489.50 121.60H467.56V121.77H489.50M468.94 121.33H465.45V121.69H467.56M468.07 120.70H461.89V121.51H465.45M463.84 118.42H458.86V121.10H461.89M462.22 116.69H457.65V119.76H458.86M489.50 121.95H473.11V122.12H489.50M489.50 122.30H471.71V122.48H489.50M473.11 122.04H468.02V122.39H471.71M489.50 122.83H471.53V123.00H489.50M489.50 122.65H467.56V122.91H471.53M468.02 122.21H465.12V122.78H467.56M489.50 123.18H469.07V123.35H489.50M489.50 123.71H475.90V123.88H489.50M489.50 124.06H470.54V124.23H489.50M475.90 123.79H468.76V124.14H470.54M489.50 123.53H466.72V123.97H468.76M469.07 123.27H464.59V123.75H466.72M489.50 124.58H473.23V124.76H489.50M489.50 124.41H471.03V124.67H473.23M489.50 124.93H473.93V125.11H489.50M489.50 125.29H472.89V125.46H489.50M473.93 125.02H470.80V125.37H472.89M471.03 124.54H467.01V125.20H470.80M489.50 125.81H476.22V125.99H489.50M489.50 125.64H470.85V125.90H476.22M489.50 126.16H473.84V126.34H489.50M489.50 126.52H475.60V126.69H489.50M489.50 126.87H475.00V127.04H489.50M475.60 126.60H473.05V126.95H475.00M473.84 126.25H471.75V126.78H473.05M489.50 127.39H476.36V127.57H489.50M489.50 127.22H474.13V127.48H476.36M489.50 127.75H473.41V127.92H489.50M474.13 127.35H470.18V127.83H473.41M471.75 126.52H469.69V127.59H470.18M470.85 125.77H466.54V127.05H469.69M467.01 124.87H464.39V126.41H466.54M464.59 123.51H461.62V125.64H464.39M465.12 122.50H461.04V124.57H461.62M489.50 128.45H470.34V128.62H489.50M489.50 128.27H467.69V128.54H470.34M489.50 128.10H463.37V128.40H467.69M489.50 128.80H471.34V128.98H489.50M489.50 129.33H472.50V129.50H489.50M489.50 129.15H470.11V129.41H472.50M471.34 128.89H466.02V129.28H470.11M489.50 129.68H469.83V129.85H489.50M489.50 130.20H471.84V130.38H489.50M489.50 130.03H471.23V130.29H471.84M489.50 130.73H472.02V130.91H489.50M489.50 130.56H469.57V130.82H472.02M471.23 130.16H467.21V130.69H469.57M469.83 129.77H464.51V130.42H467.21M466.02 129.08H461.69V130.10H464.51M463.37 128.25H459.57V129.59H461.69M461.04 123.54H458.73V128.92H459.57M489.50 131.08H468.95V131.26H489.50M489.50 131.43H463.79V131.61H489.50M468.95 131.17H462.09V131.52H463.79M489.50 131.96H471.01V132.14H489.50M489.50 131.79H468.09V132.05H471.01M489.50 132.66H471.03V132.84H489.50M489.50 132.49H470.31V132.75H471.03M489.50 132.31H465.59V132.62H470.31M468.09 131.92H464.12V132.47H465.59M489.50 133.02H469.56V133.19H489.50M489.50 133.37H472.93V133.54H489.50M489.50 133.72H472.91V133.89H489.50M472.93 133.45H469.95V133.81H472.91M489.50 134.60H473.58V134.77H489.50M489.50 134.42H471.70V134.68H473.58M489.50 134.25H467.92V134.55H471.70M489.50 134.07H467.22V134.40H467.92M469.95 133.63H465.74V134.23H467.22M469.56 133.10H463.19V133.93H465.74M464.12 132.19H460.38V133.52H463.19M462.09 131.35H456.78V132.85H460.38M458.73 126.23H454.78V132.10H456.78M457.65 118.23H453.67V129.16H454.78M454.17 100.41H450.73V123.70H453.67M451.21 54.54H449.24V112.05H450.73M489.50 135.30H472.26V135.47H489.50M489.50 135.12H469.14V135.39H472.26M489.50 134.95H466.75V135.26H469.14M489.50 135.65H467.29V135.83H489.50M489.50 136.00H472.09V136.18H489.50M489.50 136.35H467.42V136.53H489.50M472.09 136.09H465.60V136.44H467.42M467.29 135.74H463.72V136.27H465.60M466.75 135.10H460.86V136.00H463.72M489.50 137.06H474.65V137.23H489.50M489.50 136.88H473.05V137.14H474.65M489.50 136.70H468.54V137.01H473.05M489.50 137.41H470.15V137.58H489.50M489.50 137.93H472.13V138.11H489.50M489.50 137.76H469.25V138.02H472.13M470.15 137.50H467.86V137.89H469.25M468.54 136.86H465.91V137.69H467.86M489.50 138.46H475.84V138.64H489.50M489.50 138.29H471.93V138.55H475.84M489.50 138.81H473.09V138.99H489.50M489.50 139.34H475.32V139.52H489.50M489.50 139.16H472.10V139.43H475.32M473.09 138.90H470.96V139.30H472.10M471.93 138.42H467.76V139.10H470.96M489.50 139.69H473.72V139.87H489.50M489.50 140.04H473.02V140.22H489.50M473.72 139.78H470.37V140.13H473.02M489.50 140.57H473.05V140.74H489.50M489.50 140.39H471.84V140.66H473.05M489.50 140.92H473.94V141.10H489.50M489.50 141.45H474.20V141.62H489.50M489.50 141.27H471.90V141.54H474.20M473.94 141.01H470.64V141.40H471.90M471.84 140.53H468.74V141.21H470.64M470.37 139.95H466.98V140.87H468.74M467.76 138.76H464.72V140.41H466.98M465.91 137.28H462.35V139.58H464.72M489.50 141.97H475.30V142.15H489.50M489.50 141.80H471.73V142.06H475.30M489.50 142.50H474.20V142.68H489.50M489.50 142.33H469.10V142.59H474.20M471.73 141.93H468.59V142.46H469.10M489.50 142.85H473.33V143.03H489.50M489.50 143.56H477.20V143.73H489.50M489.50 143.38H473.41V143.64H477.20M489.50 143.20H470.56V143.51H473.41M473.33 142.94H467.59V143.36H470.56M468.59 142.19H465.05V143.15H467.59M489.50 143.91H474.81V144.08H489.50M489.50 144.26H475.46V144.43H489.50M489.50 144.61H472.76V144.79H489.50M475.46 144.35H471.67V144.70H472.76M474.81 143.99H470.17V144.52H471.67M489.50 145.14H476.06V145.31H489.50M489.50 144.96H471.60V145.22H476.06M489.50 145.84H473.90V146.01H489.50M489.50 145.66H471.31V145.93H473.90M489.50 145.49H469.02V145.80H471.31M471.60 145.09H466.97V145.64H469.02M470.17 144.26H465.97V145.37H466.97M489.50 146.19H472.48V146.37H489.50M489.50 146.72H474.66V146.89H489.50M489.50 146.54H473.69V146.81H474.66M489.50 147.24H472.44V147.42H489.50M489.50 147.07H470.95V147.33H472.44M473.69 146.67H470.06V147.20H470.95M472.48 146.28H465.35V146.94H470.06M465.97 144.81H462.96V146.61H465.35M465.05 142.67H461.22V145.71H462.96M462.35 138.43H459.61V144.19H461.22M460.86 135.55H457.59V141.31H459.61M489.50 147.60H468.22V147.77H489.50M489.50 147.95H467.85V148.12H489.50M468.22 147.68H464.71V148.03H467.85M489.50 148.30H467.58V148.47H489.50M489.50 149.00H472.41V149.18H489.50M489.50 148.83H468.59V149.09H472.41M489.50 148.65H466.65V148.96H468.59M467.58 148.39H464.13V148.80H466.65M464.71 147.86H459.02V148.59H464.13M489.50 149.35H472.82V149.53H489.50M489.50 149.70H468.89V149.88H489.50M472.82 149.44H465.41V149.79H468.89M489.50 150.06H470.25V150.23H489.50M489.50 150.76H476.59V150.93H489.50M489.50 150.58H474.66V150.85H476.59M489.50 151.11H474.37V151.28H489.50M474.66 150.71H472.46V151.20H474.37M489.50 150.41H471.80V150.96H472.46M489.50 151.46H477.24V151.64H489.50M489.50 152.16H478.69V152.34H489.50M489.50 151.99H476.31V152.25H478.69M489.50 151.81H474.06V152.12H476.31M477.24 151.55H471.08V151.97H474.06M471.80 150.68H469.25V151.76H471.08M470.25 150.14H465.97V151.22H469.25M489.50 152.87H474.11V153.04H489.50M489.50 152.69H470.90V152.95H474.11M489.50 152.51H470.03V152.82H470.90M489.50 153.22H473.40V153.39H489.50M489.50 153.74H475.66V153.92H489.50M489.50 153.57H470.63V153.83H475.66M473.40 153.31H469.23V153.70H470.63M470.03 152.67H465.42V153.50H469.23M465.97 150.68H464.23V153.09H465.42M465.41 149.62H461.29V151.88H464.23M489.50 154.45H476.48V154.62H489.50M489.50 154.27H472.66V154.53H476.48M489.50 154.10H471.78V154.40H472.66M489.50 154.97H476.28V155.15H489.50M489.50 154.80H468.87V155.06H476.28M471.78 154.25H466.60V154.93H468.87M489.50 155.33H470.53V155.50H489.50M489.50 155.85H476.69V156.03H489.50M489.50 155.68H474.22V155.94H476.69M489.50 156.20H472.79V156.38H489.50M474.22 155.81H469.35V156.29H472.79M470.53 155.41H466.21V156.05H469.35M466.60 154.59H464.27V155.73H466.21M489.50 156.55H475.58V156.73H489.50M489.50 156.91H473.80V157.08H489.50M475.58 156.64H471.09V156.99H473.80M489.50 157.78H477.61V157.96H489.50M489.50 157.61H474.68V157.87H477.61M489.50 157.43H471.60V157.74H474.68M489.50 157.26H470.51V157.59H471.60M471.09 156.82H465.36V157.42H470.51M489.50 158.49H477.26V158.66H489.50M489.50 158.31H473.03V158.57H477.26M489.50 158.14H472.68V158.44H473.03M489.50 159.01H475.33V159.19H489.50M489.50 158.84H471.62V159.10H475.33M472.68 158.29H469.47V158.97H471.62M489.50 159.37H474.25V159.54H489.50M489.50 159.89H473.95V160.07H489.50M489.50 159.72H471.86V159.98H473.95M474.25 159.45H469.38V159.85H471.86M469.47 158.63H467.06V159.65H469.38M489.50 160.24H474.85V160.42H489.50M489.50 160.60H474.38V160.77H489.50M474.85 160.33H471.82V160.68H474.38M489.50 160.95H471.61V161.12H489.50M489.50 161.47H475.66V161.65H489.50M489.50 161.30H473.77V161.56H475.66M489.50 161.82H473.67V162.00H489.50M473.77 161.43H470.42V161.91H473.67M471.61 161.03H468.97V161.67H470.42M471.82 160.51H466.79V161.35H468.97M467.06 159.14H464.66V160.93H466.79M465.36 157.12H462.43V160.04H464.66M464.27 155.16H461.12V158.58H462.43M461.29 150.75H457.82V156.87H461.12M459.02 148.23H456.67V153.81H457.82M457.59 138.43H455.03V151.02H456.67M489.50 162.18H467.30V162.35H489.50M489.50 163.23H474.34V163.41H489.50M489.50 163.05H471.87V163.32H474.34M489.50 162.88H469.16V163.19H471.87M489.50 162.70H466.17V163.03H469.16M489.50 162.53H460.43V162.87H466.17M467.30 162.26H459.17V162.70H460.43M489.50 163.58H470.85V163.76H489.50M489.50 164.46H473.35V164.64H489.50M489.50 164.28H472.43V164.55H473.35M489.50 164.11H469.88V164.42H472.43M489.50 163.93H466.92V164.26H469.88M489.50 164.99H471.49V165.16H489.50M489.50 164.81H469.81V165.07H471.49M489.50 165.51H471.62V165.69H489.50M489.50 165.34H468.70V165.60H471.62M469.81 164.94H464.82V165.47H468.70M466.92 164.10H463.40V165.21H464.82M470.85 163.67H461.65V164.65H463.40M489.50 165.87H473.28V166.04H489.50M489.50 166.39H476.12V166.57H489.50M489.50 166.22H471.69V166.48H476.12M473.28 165.95H470.60V166.35H471.69M489.50 166.74H476.00V166.92H489.50M489.50 167.09H474.51V167.27H489.50M476.00 166.83H471.78V167.18H474.51M489.50 167.62H474.22V167.80H489.50M489.50 167.45H470.96V167.71H474.22M471.78 167.01H467.79V167.58H470.96M470.60 166.15H466.43V167.29H467.79M489.50 168.15H474.61V168.32H489.50M489.50 167.97H473.37V168.24H474.61M489.50 168.68H475.25V168.85H489.50M489.50 168.50H472.45V168.76H475.25M473.37 168.10H469.48V168.63H472.45M489.50 169.03H473.72V169.20H489.50M489.50 169.55H473.34V169.73H489.50M489.50 169.38H472.77V169.64H473.34M489.50 169.91H470.80V170.08H489.50M472.77 169.51H469.21V169.99H470.80M473.72 169.12H466.74V169.75H469.21M469.48 168.37H465.89V169.43H466.74M466.43 166.72H464.76V168.90H465.89M489.50 170.43H475.08V170.61H489.50M489.50 170.96H475.14V171.14H489.50M489.50 170.78H472.47V171.05H475.14M475.08 170.52H471.67V170.92H472.47M489.50 170.26H467.48V170.72H471.67M489.50 171.49H471.25V171.66H489.50M489.50 171.31H467.27V171.57H471.25M467.48 170.49H464.01V171.44H467.27M464.76 167.81H461.25V170.96H464.01M461.65 164.16H457.73V169.39H461.25M459.17 162.48H454.89V166.77H457.73M455.03 144.72H451.62V164.63H454.89M489.50 172.01H462.48V172.19H489.50M489.50 171.84H458.18V172.10H462.48M489.50 172.36H470.18V172.54H489.50M489.50 172.89H469.35V173.07H489.50M489.50 172.72H467.57V172.98H469.35M470.18 172.45H465.45V172.85H467.57M489.50 173.59H471.79V173.77H489.50M489.50 173.42H469.21V173.68H471.79M489.50 173.24H468.58V173.55H469.21M489.50 174.30H475.72V174.47H489.50M489.50 174.12H471.10V174.38H475.72M489.50 174.65H473.37V174.82H489.50M489.50 175.00H472.78V175.18H489.50M473.37 174.74H468.09V175.09H472.78M471.10 174.25H466.50V174.91H468.09M489.50 173.95H465.33V174.58H466.50M468.58 173.40H461.90V174.26H465.33M465.45 172.65H459.70V173.83H461.90M489.50 175.35H473.80V175.53H489.50M489.50 175.88H473.26V176.05H489.50M489.50 175.70H472.46V175.97H473.26M473.80 175.44H469.22V175.83H472.46M489.50 176.23H472.09V176.41H489.50M489.50 176.58H474.49V176.76H489.50M489.50 176.93H474.45V177.11H489.50M489.50 177.28H474.16V177.46H489.50M474.45 177.02H471.30V177.37H474.16M474.49 176.67H470.27V177.20H471.30M472.09 176.32H467.92V176.93H470.27M469.22 175.64H465.70V176.62H467.92M489.50 177.63H472.68V177.81H489.50M489.50 178.16H471.43V178.34H489.50M489.50 177.99H470.95V178.25H471.43M472.68 177.72H469.10V178.12H470.95M489.50 178.51H472.10V178.69H489.50M489.50 179.22H475.73V179.39H489.50M489.50 179.04H475.06V179.30H475.73M489.50 178.86H472.48V179.17H475.06M489.50 179.57H471.57V179.74H489.50M472.48 179.02H469.52V179.66H471.57M472.10 178.60H467.55V179.34H469.52M469.10 177.92H464.71V178.97H467.55M465.70 176.13H463.44V178.44H464.71M489.50 179.92H474.78V180.09H489.50M489.50 180.45H478.37V180.62H489.50M489.50 180.27H473.84V180.53H478.37M474.78 180.01H472.21V180.40H473.84M489.50 181.15H475.86V181.32H489.50M489.50 180.97H473.86V181.24H475.86M489.50 180.80H473.20V181.10H473.86M489.50 181.85H475.87V182.03H489.50M489.50 181.68H473.80V181.94H475.87M489.50 181.50H472.45V181.81H473.80M473.20 180.95H470.70V181.65H472.45M472.21 180.20H468.01V181.30H470.70M489.50 182.20H473.71V182.38H489.50M489.50 182.55H479.07V182.73H489.50M489.50 182.90H478.54V183.08H489.50M479.07 182.64H473.82V182.99H478.54M489.50 183.26H473.23V183.43H489.50M473.82 182.82H471.45V183.34H473.23M473.71 182.29H468.80V183.08H471.45M489.50 183.96H476.44V184.13H489.50M489.50 183.78H475.26V184.05H476.44M489.50 183.61H472.59V183.91H475.26M489.50 184.66H478.49V184.84H489.50M489.50 184.49H474.05V184.75H478.49M489.50 184.31H471.58V184.62H474.05M472.59 183.76H468.49V184.46H471.58M468.80 182.69H466.70V184.11H468.49M468.01 180.75H465.69V183.40H466.70M489.50 185.19H472.24V185.36H489.50M489.50 185.01H471.48V185.28H472.24M489.50 185.72H475.48V185.89H489.50M489.50 186.07H475.29V186.24H489.50M475.48 185.80H472.92V186.15H475.29M489.50 185.54H470.81V185.98H472.92M471.48 185.14H467.81V185.76H470.81M489.50 186.59H475.29V186.77H489.50M489.50 187.12H478.26V187.30H489.50M489.50 186.95H474.64V187.21H478.26M475.29 186.68H471.95V187.08H474.64M489.50 186.42H469.53V186.88H471.95M489.50 187.47H471.50V187.65H489.50M489.50 188.00H476.59V188.17H489.50M489.50 187.82H474.34V188.09H476.59M489.50 188.88H476.24V189.05H489.50M489.50 188.70H475.82V188.97H476.24M489.50 188.53H472.02V188.83H475.82M489.50 188.35H470.95V188.68H472.02M474.34 187.96H469.95V188.52H470.95M471.50 187.56H467.80V188.24H469.95M469.53 186.65H466.41V187.90H467.80M467.81 185.45H465.53V187.27H466.41M465.69 182.08H462.59V186.36H465.53M463.44 177.29H461.33V184.22H462.59M489.50 189.40H471.44V189.58H489.50M489.50 189.23H470.58V189.49H471.44M489.50 189.93H472.88V190.11H489.50M489.50 189.76H469.65V190.02H472.88M470.58 189.36H467.32V189.89H469.65M489.50 190.46H475.98V190.63H489.50M489.50 190.28H473.06V190.55H475.98M489.50 190.81H473.60V190.99H489.50M489.50 191.16H473.07V191.34H489.50M473.60 190.90H470.58V191.25H473.07M473.06 190.41H469.73V191.07H470.58M489.50 191.69H473.46V191.86H489.50M489.50 191.51H468.11V191.78H473.46M469.73 190.74H466.14V191.64H468.11M467.32 189.62H464.38V191.19H466.14M489.50 192.22H471.15V192.39H489.50M489.50 192.04H467.62V192.30H471.15M489.50 192.57H472.39V192.74H489.50M489.50 193.09H471.70V193.27H489.50M489.50 192.92H468.68V193.18H471.70M472.39 192.65H466.54V193.05H468.68M467.62 192.17H463.68V192.85H466.54M464.38 190.41H460.49V192.51H463.68M461.33 180.75H459.06V191.46H460.49M459.70 173.24H456.72V186.11H459.06M458.18 171.97H453.73V179.67H456.72M489.50 193.62H472.65V193.80H489.50M489.50 193.44H471.09V193.71H472.65M489.50 193.97H469.89V194.15H489.50M489.50 194.32H469.86V194.50H489.50M469.89 194.06H467.21V194.41H469.86M471.09 193.58H465.96V194.24H467.21M489.50 194.85H467.38V195.03H489.50M489.50 194.67H465.70V194.94H467.38M465.96 193.91H460.13V194.81H465.70M489.50 195.20H471.90V195.38H489.50M489.50 195.55H468.40V195.73H489.50M471.90 195.29H462.79V195.64H468.40M489.50 196.08H471.87V196.26H489.50M489.50 195.90H468.46V196.17H471.87M489.50 196.61H472.35V196.78H489.50M489.50 196.43H471.08V196.69H472.35M489.50 197.49H473.10V197.66H489.50M489.50 197.31H470.66V197.57H473.10M489.50 197.13H468.74V197.44H470.66M489.50 196.96H466.85V197.29H468.74M471.08 196.56H465.48V197.12H466.85M489.50 198.01H472.03V198.19H489.50M489.50 197.84H470.31V198.10H472.03M489.50 198.71H474.63V198.89H489.50M489.50 198.54H470.40V198.80H474.63M489.50 198.36H469.54V198.67H470.40M489.50 199.24H475.58V199.42H489.50M489.50 199.59H473.87V199.77H489.50M475.58 199.33H470.77V199.68H473.87M489.50 199.07H468.46V199.51H470.77M469.54 198.52H466.47V199.29H468.46M470.31 197.97H465.35V198.90H466.47M465.48 196.84H462.55V198.43H465.35M468.46 196.04H461.96V197.64H462.55M462.79 195.47H459.60V196.84H461.96M460.13 194.36H456.70V196.15H459.60M489.50 200.30H470.51V200.47H489.50M489.50 200.12H467.76V200.38H470.51M489.50 199.94H464.65V200.25H467.76M489.50 200.82H473.28V201.00H489.50M489.50 200.65H471.26V200.91H473.28M489.50 201.17H468.50V201.35H489.50M471.26 200.78H467.23V201.26H468.50M489.50 201.53H470.20V201.70H489.50M489.50 201.88H474.75V202.05H489.50M489.50 202.40H475.89V202.58H489.50M489.50 202.23H473.75V202.49H475.89M474.75 201.96H470.58V202.36H473.75M489.50 202.76H470.94V202.93H489.50M489.50 203.11H476.84V203.28H489.50M489.50 203.46H474.28V203.63H489.50M476.84 203.19H470.67V203.55H474.28M470.94 202.84H466.99V203.37H470.67M470.58 202.16H466.15V203.11H466.99M470.20 201.61H465.19V202.63H466.15M467.23 201.02H462.30V202.12H465.19M464.65 200.10H461.20V201.57H462.30M489.50 203.81H476.08V203.98H489.50M489.50 204.34H475.14V204.51H489.50M489.50 204.16H473.54V204.42H475.14M476.08 203.90H472.37V204.29H473.54M489.50 204.69H474.46V204.86H489.50M489.50 205.04H473.63V205.21H489.50M474.46 204.78H471.48V205.13H473.63M472.37 204.09H467.78V204.95H471.48M489.50 205.74H477.00V205.92H489.50M489.50 205.57H474.04V205.83H477.00M489.50 205.39H472.33V205.70H474.04M489.50 206.44H474.24V206.62H489.50M489.50 206.27H473.72V206.53H474.24M489.50 206.09H470.97V206.40H473.72M489.50 206.97H476.67V207.15H489.50M489.50 206.80H474.09V207.06H476.67M489.50 207.50H474.60V207.67H489.50M489.50 207.32H471.15V207.59H474.60M474.09 206.93H470.72V207.45H471.15M470.97 206.25H469.05V207.19H470.72M472.33 205.54H467.12V206.72H469.05M467.78 204.52H465.65V206.13H467.12M489.50 208.03H476.13V208.20H489.50M489.50 207.85H470.98V208.11H476.13M489.50 208.73H475.51V208.90H489.50M489.50 208.55H473.16V208.82H475.51M489.50 208.38H470.54V208.68H473.16M470.98 207.98H468.15V208.53H470.54M489.50 209.43H477.99V209.61H489.50M489.50 209.25H473.93V209.52H477.99M489.50 209.08H472.12V209.39H473.93M489.50 209.78H474.39V209.96H489.50M489.50 210.13H472.91V210.31H489.50M474.39 209.87H471.42V210.22H472.91M472.12 209.23H468.73V210.05H471.42M489.50 210.48H476.58V210.66H489.50M489.50 210.84H475.90V211.01H489.50M489.50 211.36H476.65V211.54H489.50M489.50 211.19H474.89V211.45H476.65M475.90 210.92H472.66V211.32H474.89M476.58 210.57H471.23V211.12H472.66M489.50 211.89H476.01V212.07H489.50M489.50 211.71H473.34V211.98H476.01M489.50 212.24H471.44V212.42H489.50M473.34 211.85H469.05V212.33H471.44M471.23 210.85H467.82V212.09H469.05M468.73 209.64H466.00V211.47H467.82M468.15 208.26H464.21V210.55H466.00M465.65 205.33H462.18V209.40H464.21M489.50 212.77H470.46V212.94H489.50M489.50 212.59H466.66V212.86H470.46M489.50 213.12H473.29V213.30H489.50M489.50 213.47H473.12V213.65H489.50M473.29 213.21H470.24V213.56H473.12M489.50 214.17H476.69V214.35H489.50M489.50 214.00H473.04V214.26H476.69M489.50 213.82H472.90V214.13H473.04M489.50 214.52H472.89V214.70H489.50M472.90 213.98H470.16V214.61H472.89M470.24 213.38H467.73V214.29H470.16M489.50 214.88H474.70V215.05H489.50M489.50 215.23H471.97V215.40H489.50M474.70 214.96H470.53V215.32H471.97M489.50 215.75H474.18V215.93H489.50M489.50 215.58H471.59V215.84H474.18M489.50 216.28H474.90V216.46H489.50M489.50 216.11H471.10V216.37H474.90M471.59 215.71H467.95V216.24H471.10M470.53 215.14H465.77V215.97H467.95M467.73 213.84H465.18V215.56H465.77M466.66 212.72H462.08V214.70H465.18M462.18 207.37H459.81V213.71H462.08M461.20 200.84H457.56V210.54H459.81M489.50 216.98H473.32V217.16H489.50M489.50 216.81H470.31V217.07H473.32M489.50 216.63H466.69V216.94H470.31M489.50 217.51H469.88V217.69H489.50M489.50 217.34H464.33V217.60H469.88M466.69 216.79H462.50V217.47H464.33M489.50 218.21H475.68V218.39H489.50M489.50 218.04H473.37V218.30H475.68M489.50 217.86H471.39V218.17H473.37M489.50 218.74H476.79V218.92H489.50M489.50 218.57H475.14V218.83H476.79M489.50 219.09H474.60V219.27H489.50M489.50 219.62H476.15V219.79H489.50M489.50 219.44H474.36V219.71H476.15M474.60 219.18H472.13V219.58H474.36M475.14 218.70H471.28V219.38H472.13M471.39 218.02H469.40V219.04H471.28M489.50 219.97H474.51V220.15H489.50M489.50 220.67H476.28V220.85H489.50M489.50 220.50H472.74V220.76H476.28M489.50 220.32H470.94V220.63H472.74M474.51 220.06H469.48V220.48H470.94M489.50 221.02H474.47V221.20H489.50M489.50 221.38H473.20V221.55H489.50M474.47 221.11H470.66V221.46H473.20M489.50 221.73H473.96V221.90H489.50M489.50 222.25H474.28V222.43H489.50M489.50 222.08H472.37V222.34H474.28M473.96 221.81H469.77V222.21H472.37M470.66 221.29H468.03V222.01H469.77M469.48 220.27H466.87V221.65H468.03M469.40 218.53H465.41V220.96H466.87M489.50 222.78H474.73V222.96H489.50M489.50 222.61H472.53V222.87H474.73M489.50 223.31H474.72V223.48H489.50M489.50 223.13H471.66V223.40H474.72M472.53 222.74H468.88V223.26H471.66M489.50 223.66H472.66V223.84H489.50M489.50 224.01H471.34V224.19H489.50M472.66 223.75H468.85V224.10H471.34M468.88 223.00H465.75V223.92H468.85M489.50 224.36H471.66V224.54H489.50M489.50 224.71H474.99V224.89H489.50M489.50 225.06H472.77V225.24H489.50M474.99 224.80H469.55V225.15H472.77M471.66 224.45H468.46V224.98H469.55M489.50 225.42H471.95V225.59H489.50M489.50 225.77H474.38V225.94H489.50M489.50 226.12H473.12V226.29H489.50M474.38 225.86H471.10V226.21H473.12M471.95 225.50H467.51V226.03H471.10M468.46 224.71H464.56V225.77H467.51M465.75 223.46H462.91V225.24H464.56M465.41 219.74H462.59V224.35H462.91M489.50 226.82H476.06V227.00H489.50M489.50 226.65H473.76V226.91H476.06M489.50 226.47H470.84V226.78H473.76M489.50 227.35H475.48V227.52H489.50M489.50 227.17H472.02V227.44H475.48M489.50 227.88H476.56V228.05H489.50M489.50 227.70H475.55V227.96H476.56M489.50 228.58H477.23V228.75H489.50M489.50 228.40H475.96V228.67H477.23M489.50 228.23H474.56V228.53H475.96M475.55 227.83H471.46V228.38H474.56M472.02 227.30H468.72V228.11H471.46M470.84 226.62H468.33V227.71H468.72M489.50 228.93H476.62V229.11H489.50M489.50 229.46H478.82V229.63H489.50M489.50 229.28H472.93V229.54H478.82M476.62 229.02H470.88V229.41H472.93M489.50 229.81H477.25V229.98H489.50M489.50 230.33H473.44V230.51H489.50M489.50 230.16H473.18V230.42H473.44M489.50 230.86H475.52V231.04H489.50M489.50 230.69H472.06V230.95H475.52M473.18 230.29H470.32V230.82H472.06M477.25 229.90H469.04V230.55H470.32M470.88 229.21H467.97V230.23H469.04M468.33 227.16H464.66V229.72H467.97M489.50 231.39H473.61V231.56H489.50M489.50 231.21H471.29V231.48H473.61M489.50 232.09H475.44V232.27H489.50M489.50 231.92H472.07V232.18H475.44M489.50 231.74H469.72V232.05H472.07M471.29 231.34H467.04V231.89H469.72M489.50 232.62H473.08V232.79H489.50M489.50 232.44H470.87V232.71H473.08M489.50 232.97H471.49V233.15H489.50M489.50 233.85H475.81V234.02H489.50M489.50 233.67H472.86V233.94H475.81M489.50 233.50H472.43V233.80H472.86M489.50 233.32H470.18V233.65H472.43M471.49 233.06H468.17V233.49H470.18M470.87 232.57H465.79V233.27H468.17M467.04 231.62H463.68V232.92H465.79M464.66 228.44H461.68V232.27H463.68M462.59 222.05H459.44V230.36H461.68M462.50 217.13H457.13V226.20H459.44M457.56 205.69H455.13V221.66H457.13M456.70 195.25H453.00V213.68H455.13M453.73 175.82H451.46V204.46H453.00M489.50 234.38H473.35V234.55H489.50M489.50 234.20H468.07V234.46H473.35M489.50 234.73H467.11V234.90H489.50M468.07 234.33H463.93V234.81H467.11M489.50 235.08H476.80V235.25H489.50M489.50 235.60H473.19V235.78H489.50M489.50 235.43H471.67V235.69H473.19M476.80 235.17H469.73V235.56H471.67M489.50 235.96H473.23V236.13H489.50M489.50 236.31H473.09V236.48H489.50M473.23 236.04H470.99V236.40H473.09M489.50 236.66H470.63V236.83H489.50M470.99 236.22H468.23V236.75H470.63M469.73 235.36H464.87V236.48H468.23M489.50 237.19H475.01V237.36H489.50M489.50 237.01H471.54V237.27H475.01M489.50 237.54H471.30V237.71H489.50M471.54 237.14H467.26V237.62H471.30M489.50 238.06H473.41V238.24H489.50M489.50 237.89H470.76V238.15H473.41M489.50 238.42H472.93V238.59H489.50M489.50 238.77H472.00V238.94H489.50M472.93 238.50H469.92V238.85H472.00M470.76 238.02H466.38V238.68H469.92M467.26 237.38H463.32V238.35H466.38M464.87 235.92H461.89V237.87H463.32M489.50 239.12H466.25V239.29H489.50M489.50 239.47H474.08V239.65H489.50M489.50 239.82H473.06V240.00H489.50M474.08 239.56H469.17V239.91H473.06M489.50 240.17H474.84V240.35H489.50M489.50 240.52H474.49V240.70H489.50M474.84 240.26H470.41V240.61H474.49M489.50 241.05H470.93V241.23H489.50M489.50 240.87H468.73V241.14H470.93M470.41 240.44H466.74V241.01H468.73M469.17 239.73H463.03V240.72H466.74M466.25 239.21H461.15V240.23H463.03M461.89 236.89H459.08V239.72H461.15M463.93 234.57H457.50V238.31H459.08M489.50 241.75H470.36V241.93H489.50M489.50 241.58H466.53V241.84H470.36M489.50 241.40H463.84V241.71H466.53M489.50 242.10H469.58V242.28H489.50M489.50 242.46H468.49V242.63H489.50M469.58 242.19H463.77V242.54H468.49M463.84 241.56H460.81V242.37H463.77M489.50 242.81H471.44V242.98H489.50M489.50 243.16H469.63V243.33H489.50M471.44 242.90H465.11V243.25H469.63M489.50 243.51H472.44V243.69H489.50M489.50 244.04H473.08V244.21H489.50M489.50 243.86H470.37V244.12H473.08M472.44 243.60H467.97V243.99H470.37M489.50 244.39H476.19V244.56H489.50M489.50 244.74H472.33V244.92H489.50M489.50 245.09H475.42V245.27H489.50M489.50 245.62H476.18V245.79H489.50M489.50 245.44H474.92V245.71H476.18M475.42 245.18H471.35V245.57H474.92M489.50 246.14H473.61V246.32H489.50M489.50 245.97H471.00V246.23H473.61M471.35 245.38H470.10V246.10H471.00M472.33 244.83H468.23V245.74H470.10M476.19 244.48H465.82V245.28H468.23M467.97 243.80H465.15V244.88H465.82M489.50 246.50H474.06V246.67H489.50M489.50 246.85H471.61V247.02H489.50M474.06 246.58H468.27V246.94H471.61M489.50 247.20H472.09V247.37H489.50M489.50 247.55H469.15V247.73H489.50M472.09 247.29H467.61V247.64H469.15M468.27 246.76H464.84V247.46H467.61M465.15 244.34H462.14V247.11H464.84M465.11 243.07H459.20V245.72H462.14M460.81 241.96H456.04V244.40H459.20M457.50 236.44H454.07V243.18H456.04M489.50 248.25H474.80V248.43H489.50M489.50 248.08H471.80V248.34H474.80M489.50 247.90H471.55V248.21H471.80M489.50 248.96H475.56V249.13H489.50M489.50 248.78H474.10V249.04H475.56M489.50 248.60H471.19V248.91H474.10M471.55 248.06H469.50V248.76H471.19M489.50 249.31H472.86V249.48H489.50M489.50 249.83H474.27V250.01H489.50M489.50 249.66H471.85V249.92H474.27M472.86 249.39H468.09V249.79H471.85M469.50 248.41H466.24V249.59H468.09M489.50 250.19H472.01V250.36H489.50M489.50 250.71H472.71V250.89H489.50M489.50 250.54H469.27V250.80H472.71M472.01 250.27H465.47V250.67H469.27M466.24 249.00H462.45V250.47H465.47M489.50 251.06H468.90V251.24H489.50M489.50 251.41H466.22V251.59H489.50M468.90 251.15H460.19V251.50H466.22M462.45 249.74H459.33V251.33H460.19M489.50 251.77H465.91V251.94H489.50M489.50 252.64H471.75V252.82H489.50M489.50 252.47H468.91V252.73H471.75M489.50 252.29H467.22V252.60H468.91M489.50 252.12H461.47V252.45H467.22M465.91 251.85H458.92V252.28H461.47M459.33 250.53H455.22V252.07H458.92M489.50 253.17H472.23V253.35H489.50M489.50 253.00H471.12V253.26H472.23M489.50 253.70H478.27V253.87H489.50M489.50 253.52H474.08V253.79H478.27M489.50 254.40H476.06V254.58H489.50M489.50 254.23H475.00V254.49H476.06M489.50 254.05H473.42V254.36H475.00M474.08 253.65H470.64V254.20H473.42M471.12 253.13H467.38V253.93H470.64M489.50 254.93H472.48V255.10H489.50M489.50 255.28H473.83V255.46H489.50M489.50 255.81H472.60V255.98H489.50M489.50 255.63H470.92V255.89H472.60M473.83 255.37H470.61V255.76H470.92M472.48 255.02H468.60V255.56H470.61M489.50 254.75H466.23V255.29H468.60M467.38 253.53H463.81V255.02H466.23M489.50 256.33H474.85V256.51H489.50M489.50 256.16H471.28V256.42H474.85M489.50 257.04H477.16V257.21H489.50M489.50 256.86H473.00V257.12H477.16M489.50 256.68H470.50V256.99H473.00M471.28 256.29H468.82V256.84H470.50M489.50 257.39H476.28V257.56H489.50M489.50 257.74H475.25V257.91H489.50M476.28 257.48H473.65V257.83H475.25M489.50 258.09H475.04V258.27H489.50M489.50 258.44H472.46V258.62H489.50M475.04 258.18H471.10V258.53H472.46M473.65 257.65H470.11V258.35H471.10M489.50 258.79H476.37V258.97H489.50M489.50 259.14H475.70V259.32H489.50M476.37 258.88H473.35V259.23H475.70M489.50 259.50H476.58V259.67H489.50M489.50 259.85H475.41V260.02H489.50M476.58 259.58H473.21V259.93H475.41M473.35 259.06H468.91V259.76H473.21M470.11 258.00H468.40V259.41H468.91M489.50 260.20H473.08V260.37H489.50M489.50 260.55H475.27V260.73H489.50M489.50 260.90H473.60V261.08H489.50M475.27 260.64H472.40V260.99H473.60M473.08 260.29H469.64V260.81H472.40M489.50 261.25H474.12V261.43H489.50M489.50 261.78H473.99V261.95H489.50M489.50 261.60H472.82V261.87H473.99M474.12 261.34H470.35V261.74H472.82M489.50 262.13H474.35V262.31H489.50M489.50 262.48H474.04V262.66H489.50M489.50 263.18H479.23V263.36H489.50M489.50 263.01H475.22V263.27H479.23M489.50 262.83H473.71V263.14H475.22M474.04 262.57H471.67V262.99H473.71M474.35 262.22H469.95V262.78H471.67M470.35 261.54H467.72V262.50H469.95M469.64 260.55H467.44V262.02H467.72M468.40 258.71H465.22V261.28H467.44M468.82 256.56H464.83V259.99H465.22M489.50 263.54H471.58V263.71H489.50M489.50 264.06H472.93V264.24H489.50M489.50 263.89H471.39V264.15H472.93M489.50 264.59H475.51V264.77H489.50M489.50 264.41H474.43V264.68H475.51M489.50 264.94H473.12V265.12H489.50M474.43 264.55H469.49V265.03H473.12M471.39 264.02H466.96V264.79H469.49M471.58 263.62H466.62V264.40H466.96M489.50 265.29H472.34V265.47H489.50M489.50 265.64H470.18V265.82H489.50M472.34 265.38H467.97V265.73H470.18M489.50 266.17H477.96V266.35H489.50M489.50 266.00H474.68V266.26H477.96M489.50 266.87H476.39V267.05H489.50M489.50 266.70H472.37V266.96H476.39M489.50 266.52H471.45V266.83H472.37M474.68 266.13H469.87V266.68H471.45M489.50 267.22H475.26V267.40H489.50M489.50 267.58H471.55V267.75H489.50M475.26 267.31H469.19V267.66H471.55M469.87 266.40H467.06V267.49H469.19M467.97 265.56H465.23V266.94H467.06M466.62 264.01H463.74V266.25H465.23M464.83 258.28H460.74V265.13H463.74M463.81 254.27H460.45V261.71H460.74M489.50 267.93H471.41V268.10H489.50M489.50 268.45H472.15V268.63H489.50M489.50 268.28H470.97V268.54H472.15M489.50 268.81H469.54V268.98H489.50M470.97 268.41H466.17V268.89H469.54M471.41 268.02H464.41V268.65H466.17M489.50 269.16H470.89V269.33H489.50M489.50 269.51H472.68V269.68H489.50M489.50 270.04H472.43V270.21H489.50M489.50 269.86H470.90V270.12H472.43M472.68 269.60H468.40V269.99H470.90M470.89 269.25H467.19V269.79H468.40M489.50 270.74H470.31V270.91H489.50M489.50 270.56H468.81V270.83H470.31M489.50 270.39H464.45V270.69H468.81M467.19 269.52H462.91V270.54H464.45M464.41 268.33H459.73V270.03H462.91M460.45 257.99H456.69V269.18H459.73M489.50 271.09H473.10V271.27H489.50M489.50 271.44H472.20V271.62H489.50M473.10 271.18H469.03V271.53H472.20M489.50 271.97H474.60V272.14H489.50M489.50 271.79H473.61V272.06H474.60M489.50 272.49H476.02V272.67H489.50M489.50 272.32H475.57V272.58H476.02M489.50 272.85H472.77V273.02H489.50M475.57 272.45H470.93V272.93H472.77M473.61 271.92H467.92V272.69H470.93M489.50 273.37H473.50V273.55H489.50M489.50 273.20H470.12V273.46H473.50M489.50 273.72H472.90V273.90H489.50M489.50 274.08H471.92V274.25H489.50M472.90 273.81H468.42V274.16H471.92M470.12 273.33H467.02V273.99H468.42M467.92 272.31H465.27V273.66H467.02M469.03 271.35H465.08V272.98H465.27M489.50 274.60H469.49V274.78H489.50M489.50 274.43H467.31V274.69H469.49M489.50 275.13H473.14V275.31H489.50M489.50 274.95H468.65V275.22H473.14M489.50 276.01H478.31V276.18H489.50M489.50 275.83H472.80V276.10H478.31M489.50 275.66H472.03V275.96H472.80M489.50 275.48H467.58V275.81H472.03M468.65 275.09H464.93V275.65H467.58M467.31 274.56H462.21V275.37H464.93M465.08 272.17H460.93V274.96H462.21M489.50 276.36H475.04V276.54H489.50M489.50 276.71H472.53V276.89H489.50M475.04 276.45H468.59V276.80H472.53M489.50 277.06H473.93V277.24H489.50M489.50 277.76H476.35V277.94H489.50M489.50 277.59H475.86V277.85H476.35M489.50 277.41H473.98V277.72H475.86M489.50 278.12H474.57V278.29H489.50M489.50 278.64H477.04V278.82H489.50M489.50 278.47H472.89V278.73H477.04M474.57 278.20H471.45V278.60H472.89M473.98 277.57H468.96V278.40H471.45M473.93 277.15H468.41V277.98H468.96M468.59 276.62H466.69V277.57H468.41M489.50 279.52H475.63V279.70H489.50M489.50 279.35H474.60V279.61H475.63M489.50 279.17H472.52V279.48H474.60M489.50 278.99H471.47V279.32H472.52M489.50 279.87H477.93V280.05H489.50M489.50 280.22H474.10V280.40H489.50M477.93 279.96H472.52V280.31H474.10M489.50 280.93H474.18V281.10H489.50M489.50 280.75H471.86V281.01H474.18M489.50 280.58H469.70V280.88H471.86M472.52 280.14H468.95V280.73H469.70M471.47 279.16H466.09V280.43H468.95M466.69 277.10H464.14V279.80H466.09M489.50 281.28H470.31V281.45H489.50M489.50 281.81H471.77V281.98H489.50M489.50 281.63H467.65V281.89H471.77M470.31 281.37H466.05V281.76H467.65M489.50 282.16H473.04V282.33H489.50M489.50 282.51H475.79V282.68H489.50M489.50 282.86H471.98V283.03H489.50M475.79 282.60H468.91V282.95H471.98M473.04 282.24H467.75V282.77H468.91M489.50 283.21H469.68V283.39H489.50M489.50 283.91H472.38V284.09H489.50M489.50 283.74H471.30V284.00H472.38M489.50 283.56H468.24V283.87H471.30M469.68 283.30H466.37V283.72H468.24M467.75 282.51H464.79V283.51H466.37M466.05 281.56H461.26V283.01H464.79M464.14 278.45H460.02V282.29H461.26M460.93 273.57H457.91V280.37H460.02M489.50 284.44H474.57V284.62H489.50M489.50 284.26H473.70V284.53H474.57M489.50 284.97H476.89V285.14H489.50M489.50 284.79H475.57V285.06H476.89M489.50 285.49H474.17V285.67H489.50M489.50 285.32H472.74V285.58H474.17M475.57 284.92H471.61V285.45H472.74M473.70 284.40H469.51V285.19H471.61M489.50 286.02H474.64V286.20H489.50M489.50 285.85H474.46V286.11H474.64M489.50 286.37H476.28V286.55H489.50M489.50 286.72H474.07V286.90H489.50M476.28 286.46H472.37V286.81H474.07M474.46 285.98H470.56V286.64H472.37M489.50 287.08H473.51V287.25H489.50M489.50 287.60H475.50V287.78H489.50M489.50 287.43H473.44V287.69H475.50M473.51 287.16H470.46V287.56H473.44M470.56 286.31H468.09V287.36H470.46M469.51 284.79H465.78V286.83H468.09M489.50 287.95H473.95V288.13H489.50M489.50 288.48H475.78V288.66H489.50M489.50 288.30H472.19V288.57H475.78M473.95 288.04H470.29V288.44H472.19M489.50 288.83H473.03V289.01H489.50M489.50 289.36H477.03V289.53H489.50M489.50 289.18H472.03V289.45H477.03M473.03 288.92H469.77V289.31H472.03M470.29 288.24H467.62V289.12H469.77M489.50 289.71H472.49V289.89H489.50M489.50 290.06H472.21V290.24H489.50M489.50 290.41H471.71V290.59H489.50M472.21 290.15H470.54V290.50H471.71M472.49 289.80H467.57V290.32H470.54M467.62 288.68H464.61V290.06H467.57M465.78 285.81H463.05V289.37H464.61M489.50 290.94H476.51V291.12H489.50M489.50 290.76H475.61V291.03H476.51M489.50 291.29H474.12V291.47H489.50M475.61 290.90H471.75V291.38H474.12M489.50 291.99H475.76V292.17H489.50M489.50 291.82H473.37V292.08H475.76M489.50 291.64H471.50V291.95H473.37M471.75 291.14H469.36V291.80H471.50M489.50 292.52H476.09V292.70H489.50M489.50 292.35H471.60V292.61H476.09M489.50 292.87H472.67V293.05H489.50M489.50 293.22H476.61V293.40H489.50M489.50 293.57H473.78V293.75H489.50M476.61 293.31H472.46V293.66H473.78M472.67 292.96H468.97V293.49H472.46M471.60 292.48H466.91V293.22H468.97M469.36 291.47H465.15V292.85H466.91M489.50 294.28H480.94V294.45H489.50M489.50 294.10H474.74V294.37H480.94M489.50 293.93H470.48V294.23H474.74M489.50 294.63H474.35V294.80H489.50M489.50 294.98H474.19V295.16H489.50M474.35 294.72H469.11V295.07H474.19M470.48 294.08H468.33V294.89H469.11M489.50 295.51H474.83V295.68H489.50M489.50 295.33H473.40V295.60H474.83M489.50 296.03H476.25V296.21H489.50M489.50 295.86H470.77V296.12H476.25M473.40 295.46H469.74V295.99H470.77M489.50 296.39H471.52V296.56H489.50M489.50 296.74H473.85V296.91H489.50M489.50 297.44H478.66V297.62H489.50M489.50 297.26H477.51V297.53H478.66M489.50 297.09H472.40V297.40H477.51M473.85 296.82H470.65V297.24H472.40M471.52 296.47H467.80V297.03H470.65M469.74 295.73H466.91V296.75H467.80M468.33 294.49H464.74V296.24H466.91M465.15 292.16H462.49V295.36H464.74M463.05 287.59H460.65V293.76H462.49M489.50 298.14H476.50V298.32H489.50M489.50 297.97H468.02V298.23H476.50M489.50 298.49H470.08V298.67H489.50M489.50 299.20H473.82V299.37H489.50M489.50 299.02H470.13V299.28H473.82M489.50 298.84H469.58V299.15H470.13M470.08 298.58H466.18V299.00H469.58M468.02 298.10H464.35V298.79H466.18M489.50 297.79H462.74V298.44H464.35M489.50 299.55H475.60V299.72H489.50M489.50 300.07H472.56V300.25H489.50M489.50 299.90H471.58V300.16H472.56M475.60 299.64H468.94V300.03H471.58M489.50 300.60H473.41V300.78H489.50M489.50 300.43H471.20V300.69H473.41M489.50 300.95H470.37V301.13H489.50M471.20 300.56H468.07V301.04H470.37M468.94 299.83H466.58V300.80H468.07M489.50 301.48H475.72V301.66H489.50M489.50 301.30H471.84V301.57H475.72M489.50 301.83H471.63V302.01H489.50M471.84 301.44H469.48V301.92H471.63M489.50 302.36H475.75V302.53H489.50M489.50 302.18H474.03V302.45H475.75M489.50 302.71H472.59V302.89H489.50M474.03 302.31H471.25V302.80H472.59M489.50 303.24H476.96V303.41H489.50M489.50 303.06H470.22V303.32H476.96M471.25 302.56H468.87V303.19H470.22M469.48 301.68H466.30V302.87H468.87M466.58 300.32H462.18V302.28H466.30M462.74 298.12H459.45V301.30H462.18M460.65 290.68H456.88V299.71H459.45M457.91 276.97H456.33V295.19H456.88M456.69 263.59H454.71V286.08H456.33M455.22 251.30H452.60V274.83H454.71M454.07 239.81H450.22V263.07H452.60M451.46 190.14H449.52V251.44H450.22M451.62 154.68H449.13V220.79H449.52M449.24 83.30H444.50V187.73H449.13" fill="none" stroke="#000" stroke-width="1.0"/>
</svg></body></html>
